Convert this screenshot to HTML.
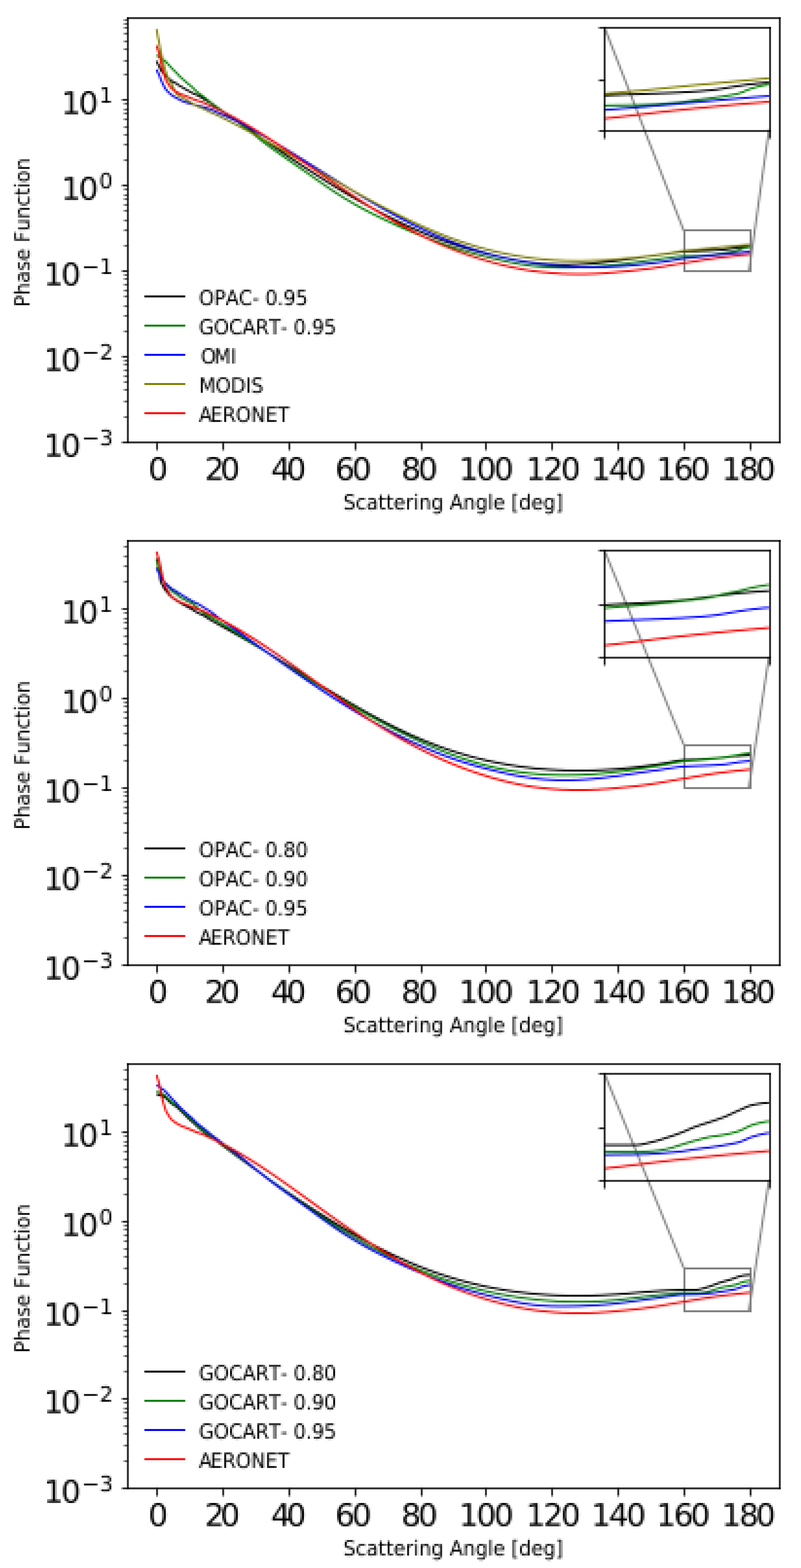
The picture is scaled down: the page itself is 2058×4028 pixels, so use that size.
<!DOCTYPE html>
<html lang="en"><head><meta charset="utf-8"><title>Phase Function vs Scattering Angle</title>
<style>
html,body{margin:0;padding:0;background:#fff}
body{width:2058px;height:4028px;overflow:hidden}
svg{display:block;font-family:"DejaVu Sans","Liberation Sans",sans-serif;font-kerning:none;font-variant-ligatures:none;text-rendering:geometricPrecision}
svg text{fill:#000}
</style></head><body>
<svg width="2058" height="4028" viewBox="0 0 2058 4028" role="img" aria-label="Phase function versus scattering angle for aerosol models">
<defs>
<g id="plot1"><path fill="none" stroke="#808080" stroke-width="5" d="M1553.3 71 L1756.7 592.5 M1975.8 332.3 L1924.3 697.1"/><g fill="none" stroke-width="5" stroke-linejoin="round"><path stroke="#000000" d="M402.5 156.4 L403.3 159.3 L404.2 161.3 L405 163.1 L405.9 164.8 L406.7 166.3 L407.6 167.7 L408.4 169.1 L409.3 170.9 L410.1 172.9 L411 174.9 L411.8 176.8 L412.6 178.6 L413.5 180 L414.3 181.4 L415.2 182.6 L416 183.8 L416.9 184.9 L417.7 186 L418.6 187.1 L419.4 188.2 L420.3 189.2 L421.1 190.2 L421.9 191.1 L422.8 192 L423.6 192.9 L424.5 193.7 L425.3 194.4 L426.2 195.2 L427 195.9 L427.9 196.7 L428.7 197.4 L429.6 198.2 L430.4 199 L431.2 199.8 L432.1 200.6 L432.9 201.3 L433.8 202 L434.6 202.7 L435.5 203.4 L436.3 204 L437.2 204.6 L438 205.3 L438.9 205.9 L439.7 206.6 L440.5 207.3 L441.4 208.1 L442.2 208.7 L443.1 209.4 L443.9 209.9 L444.8 210.4 L445.6 210.9 L446.5 211.3 L447.3 211.7 L448.2 212.1 L449 212.5 L449.8 212.9 L450.7 213.3 L451.5 213.7 L452.4 214.1 L453.2 214.6 L457.5 217.8 L461.7 220.4 L465.9 222.7 L470.1 225.3 L474.4 227.8 L478.6 230.3 L482.8 232.6 L487 234.9 L491.3 237.3 L495.5 239.6 L499.7 241.5 L504 243.2 L508.2 245.1 L512.4 247.4 L516.6 250 L520.9 252.7 L525.1 255.3 L529.3 257.7 L533.5 260.1 L537.8 262.5 L542 265.2 L546.2 268.2 L550.5 271.5 L554.7 274.8 L558.9 277.9 L563.1 280.8 L567.4 283.5 L571.6 286.3 L575.8 289 L580 291.8 L584.3 294.6 L588.5 297.5 L592.7 300.4 L597 303.3 L601.2 306.2 L605.4 309.1 L609.6 312 L613.9 315 L618.1 317.9 L622.3 320.8 L626.5 323.7 L630.8 326.6 L635 329.5 L639.2 332.4 L643.5 335.3 L647.7 338.3 L651.9 341.2 L656.1 344.1 L664.6 349.9 L673 355.7 L681.5 361.5 L690 367.3 L698.4 373.1 L706.9 378.9 L715.3 384.6 L723.8 390.4 L732.2 396.1 L740.7 401.8 L749.1 407.4 L757.6 413.1 L766 418.7 L774.5 424.3 L783 429.9 L791.4 435.4 L799.9 440.9 L808.3 446.4 L816.8 451.8 L825.2 457.2 L833.7 462.6 L842.1 467.9 L850.6 473.2 L859 478.4 L867.5 483.6 L876 488.7 L884.4 493.8 L892.9 498.8 L901.3 503.8 L909.8 508.7 L918.2 513.6 L926.7 518.4 L935.1 523.1 L943.6 527.8 L952 532.5 L960.5 537 L969 541.6 L977.4 546 L985.9 550.4 L994.3 554.8 L1002.8 559 L1011.2 563.2 L1019.7 567.4 L1028.1 571.5 L1036.6 575.5 L1045 579.4 L1053.5 583.3 L1062 587.1 L1070.4 590.8 L1078.9 594.5 L1087.3 598.1 L1095.8 601.6 L1104.2 605 L1112.7 608.4 L1121.1 611.7 L1129.6 614.9 L1138 618 L1146.5 621 L1155 624 L1163.4 626.9 L1171.9 629.7 L1180.3 632.4 L1188.8 635 L1197.2 637.6 L1205.7 640 L1214.1 642.4 L1222.6 644.7 L1231 647 L1239.5 649.2 L1248 651.3 L1256.4 653.4 L1264.9 655.4 L1273.3 657.4 L1281.8 659.3 L1290.2 661.1 L1298.7 662.9 L1307.1 664.7 L1315.6 666.3 L1324 667.9 L1332.5 669.5 L1341 670.9 L1349.4 672.2 L1357.9 673.5 L1366.3 674.6 L1374.8 675.6 L1383.2 676.6 L1391.7 677.4 L1400.1 678.1 L1408.6 678.7 L1417 679.1 L1425.5 679.5 L1434 679.8 L1442.4 679.9 L1450.9 680 L1459.3 680 L1467.8 679.8 L1476.2 679.6 L1484.7 679.3 L1493.1 678.8 L1501.6 678.3 L1510 677.7 L1518.5 677.1 L1527 676.3 L1535.4 675.5 L1543.9 674.7 L1552.3 673.7 L1560.8 672.8 L1569.2 671.8 L1577.7 670.7 L1586.1 669.6 L1594.6 668.5 L1603 667.3 L1611.5 666.1 L1620 665 L1628.4 663.8 L1636.9 662.6 L1645.3 661.3 L1653.8 660.1 L1662.2 658.9 L1670.7 657.8 L1679.1 656.6 L1687.6 655.5 L1696 654.3 L1704.5 653.1 L1713 651.9 L1721.4 650.6 L1729.9 649.4 L1738.3 648.2 L1746.8 647.1 L1755.2 646.4 L1763.7 645.9 L1772.1 645.5 L1780.6 645.2 L1789 644.9 L1797.5 644.6 L1806 644.2 L1814.4 643.9 L1822.9 643.5 L1831.3 643.1 L1839.8 642.6 L1848.2 642.1 L1856.7 641.4 L1865.1 640.6 L1873.6 639.5 L1882 638.1 L1890.5 636.7 L1899 635.4 L1907.4 634.4 L1915.9 633.5 L1924.3 632.8 L1926.8 632.6"/><path stroke="#008000" d="M402.5 141.9 L403.3 142.6 L404.2 143.2 L405 143.8 L405.9 144.4 L406.7 145 L407.6 145.6 L408.4 146.2 L409.3 146.7 L410.1 147.3 L411 147.8 L411.8 148.4 L412.6 148.9 L413.5 149.4 L414.3 150 L415.2 150.5 L416 151 L416.9 151.5 L417.7 152 L418.6 152.5 L419.4 153 L420.3 153.6 L421.1 154.3 L421.9 155 L422.8 155.7 L423.6 156.4 L424.5 157.1 L425.3 157.9 L426.2 158.7 L427 159.6 L427.9 160.5 L428.7 161.4 L429.6 162.3 L430.4 163.2 L431.2 164.1 L432.1 165.1 L432.9 166 L433.8 166.9 L434.6 167.8 L435.5 168.7 L436.3 169.6 L437.2 170.5 L438 171.4 L438.9 172.3 L439.7 173.3 L440.5 174.2 L441.4 175.1 L442.2 176 L443.1 176.9 L443.9 177.8 L444.8 178.6 L445.6 179.5 L446.5 180.3 L447.3 181.1 L448.2 181.9 L449 182.7 L449.8 183.5 L450.7 184.4 L451.5 185.2 L452.4 186 L453.2 186.9 L457.5 191.5 L461.7 196.1 L465.9 199.9 L470.1 203.6 L474.4 207.4 L478.6 211.2 L482.8 214.9 L487 218.3 L491.3 221.7 L495.5 225.5 L499.7 229.8 L504 234 L508.2 237.5 L512.4 240.7 L516.6 243.8 L520.9 246.9 L525.1 250.1 L529.3 253.3 L533.5 256.8 L537.8 260.3 L542 263.6 L546.2 266.8 L550.5 269.8 L554.7 272.8 L558.9 275.9 L563.1 279 L567.4 282.1 L571.6 285.2 L575.8 288.1 L580 291.1 L584.3 294 L588.5 296.9 L592.7 299.9 L597 302.9 L601.2 306 L605.4 309.1 L609.6 312.3 L613.9 315.5 L618.1 318.7 L622.3 322 L626.5 325.3 L630.8 328.6 L635 332 L639.2 335.3 L643.5 338.7 L647.7 342 L651.9 345.4 L656.1 348.7 L664.6 355.4 L673 362 L681.5 368.4 L690 374.7 L698.4 380.9 L706.9 387 L715.3 393 L723.8 398.9 L732.2 404.8 L740.7 410.6 L749.1 416.4 L757.6 422.2 L766 428.1 L774.5 433.9 L783 439.8 L791.4 445.8 L799.9 451.7 L808.3 457.7 L816.8 463.6 L825.2 469.5 L833.7 475.4 L842.1 481.2 L850.6 486.9 L859 492.6 L867.5 498.1 L876 503.5 L884.4 508.8 L892.9 513.9 L901.3 518.9 L909.8 523.8 L918.2 528.5 L926.7 533.2 L935.1 537.8 L943.6 542.2 L952 546.6 L960.5 550.9 L969 555.1 L977.4 559.2 L985.9 563.3 L994.3 567.3 L1002.8 571.2 L1011.2 575.1 L1019.7 578.9 L1028.1 582.7 L1036.6 586.4 L1045 590 L1053.5 593.6 L1062 597.1 L1070.4 600.6 L1078.9 604 L1087.3 607.4 L1095.8 610.7 L1104.2 613.9 L1112.7 617.1 L1121.1 620.3 L1129.6 623.4 L1138 626.4 L1146.5 629.3 L1155 632.2 L1163.4 635 L1171.9 637.7 L1180.3 640.4 L1188.8 642.9 L1197.2 645.4 L1205.7 647.9 L1214.1 650.3 L1222.6 652.6 L1231 654.8 L1239.5 657 L1248 659.2 L1256.4 661.3 L1264.9 663.3 L1273.3 665.3 L1281.8 667.3 L1290.2 669.2 L1298.7 671.1 L1307.1 672.9 L1315.6 674.6 L1324 676.3 L1332.5 677.8 L1341 679.3 L1349.4 680.6 L1357.9 681.9 L1366.3 683 L1374.8 684 L1383.2 684.8 L1391.7 685.5 L1400.1 686.1 L1408.6 686.5 L1417 686.8 L1425.5 687.1 L1434 687.2 L1442.4 687.3 L1450.9 687.3 L1459.3 687.2 L1467.8 687.1 L1476.2 686.9 L1484.7 686.6 L1493.1 686.4 L1501.6 686.1 L1510 685.7 L1518.5 685.3 L1527 684.8 L1535.4 684.3 L1543.9 683.7 L1552.3 683.1 L1560.8 682.4 L1569.2 681.6 L1577.7 680.8 L1586.1 679.9 L1594.6 678.9 L1603 677.9 L1611.5 676.9 L1620 675.8 L1628.4 674.6 L1636.9 673.5 L1645.3 672.3 L1653.8 671.2 L1662.2 670 L1670.7 668.9 L1679.1 667.8 L1687.6 666.7 L1696 665.6 L1704.5 664.4 L1713 663.3 L1721.4 662.1 L1729.9 660.8 L1738.3 659.6 L1746.8 658.7 L1755.2 658.2 L1763.7 658 L1772.1 657.9 L1780.6 657.8 L1789 657.6 L1797.5 657.3 L1806 656.8 L1814.4 656.1 L1822.9 655.3 L1831.3 654.5 L1839.8 653.2 L1848.2 651.7 L1856.7 650.5 L1865.1 649.3 L1873.6 648 L1882 646.5 L1890.5 644.8 L1899 641.9 L1907.4 638.4 L1915.9 636.3 L1924.3 634.8 L1926.8 634.4"/><path stroke="#0000ff" d="M402.5 178.5 L403.3 180.9 L404.2 183 L405 185 L405.9 186.8 L406.7 188.5 L407.6 190.1 L408.4 191.6 L409.3 193.5 L410.1 195.8 L411 198.2 L411.8 200.6 L412.6 202.9 L413.5 204.8 L414.3 206.7 L415.2 208.5 L416 210.3 L416.9 212.1 L417.7 213.8 L418.6 215.5 L419.4 217.3 L420.3 219.1 L421.1 220.9 L421.9 222.6 L422.8 224.2 L423.6 225.7 L424.5 227 L425.3 228.2 L426.2 229.4 L427 230.5 L427.9 231.5 L428.7 232.5 L429.6 233.5 L430.4 234.4 L431.2 235.3 L432.1 236.1 L432.9 237 L433.8 237.8 L434.6 238.6 L435.5 239.4 L436.3 240.2 L437.2 240.9 L438 241.6 L438.9 242.3 L439.7 243 L440.5 243.6 L441.4 244.3 L442.2 244.9 L443.1 245.5 L443.9 246.1 L444.8 246.6 L445.6 247.2 L446.5 247.7 L447.3 248.2 L448.2 248.7 L449 249.2 L449.8 249.7 L450.7 250.1 L451.5 250.6 L452.4 251.1 L453.2 251.5 L457.5 253.8 L461.7 256.1 L465.9 258.3 L470.1 260.2 L474.4 261.8 L478.6 263.2 L482.8 264.5 L487 265.7 L491.3 266.9 L495.5 268.1 L499.7 269.2 L504 270.3 L508.2 271.4 L512.4 272.4 L516.6 273.5 L520.9 274.6 L525.1 275.8 L529.3 277 L533.5 278.3 L537.8 279.6 L542 281.2 L546.2 282.9 L550.5 284.8 L554.7 286.8 L558.9 288.7 L563.1 290.6 L567.4 292.4 L571.6 294.3 L575.8 296.1 L580 298 L584.3 300 L588.5 302 L592.7 304 L597 306 L601.2 308.1 L605.4 310.2 L609.6 312.3 L613.9 314.4 L618.1 316.6 L622.3 318.8 L626.5 321 L630.8 323.2 L635 325.5 L639.2 327.7 L643.5 330 L647.7 332.3 L651.9 334.7 L656.1 337 L664.6 341.8 L673 346.6 L681.5 351.4 L690 356.4 L698.4 361.4 L706.9 366.4 L715.3 371.5 L723.8 376.6 L732.2 381.7 L740.7 386.9 L749.1 392.2 L757.6 397.4 L766 402.7 L774.5 407.9 L783 413.2 L791.4 418.5 L799.9 423.8 L808.3 429.1 L816.8 434.5 L825.2 439.8 L833.7 445.1 L842.1 450.4 L850.6 455.7 L859 460.9 L867.5 466.2 L876 471.5 L884.4 476.7 L892.9 481.9 L901.3 487.1 L909.8 492.2 L918.2 497.3 L926.7 502.4 L935.1 507.5 L943.6 512.5 L952 517.5 L960.5 522.4 L969 527.3 L977.4 532.2 L985.9 536.9 L994.3 541.7 L1002.8 546.4 L1011.2 551 L1019.7 555.6 L1028.1 560.1 L1036.6 564.5 L1045 568.9 L1053.5 573.2 L1062 577.4 L1070.4 581.5 L1078.9 585.6 L1087.3 589.6 L1095.8 593.5 L1104.2 597.3 L1112.7 601.1 L1121.1 604.7 L1129.6 608.3 L1138 611.8 L1146.5 615.2 L1155 618.6 L1163.4 621.8 L1171.9 625 L1180.3 628.1 L1188.8 631.1 L1197.2 634.1 L1205.7 636.9 L1214.1 639.7 L1222.6 642.4 L1231 645 L1239.5 647.5 L1248 650 L1256.4 652.3 L1264.9 654.6 L1273.3 656.8 L1281.8 658.9 L1290.2 661 L1298.7 662.9 L1307.1 664.8 L1315.6 666.6 L1324 668.3 L1332.5 669.9 L1341 671.5 L1349.4 673 L1357.9 674.4 L1366.3 675.7 L1374.8 676.9 L1383.2 678.1 L1391.7 679.2 L1400.1 680.2 L1408.6 681.1 L1417 682 L1425.5 682.8 L1434 683.5 L1442.4 684.2 L1450.9 684.7 L1459.3 685.2 L1467.8 685.7 L1476.2 686 L1484.7 686.3 L1493.1 686.6 L1501.6 686.7 L1510 686.8 L1518.5 686.8 L1527 686.8 L1535.4 686.6 L1543.9 686.5 L1552.3 686.2 L1560.8 685.9 L1569.2 685.5 L1577.7 685.1 L1586.1 684.6 L1594.6 684 L1603 683.4 L1611.5 682.7 L1620 682 L1628.4 681.2 L1636.9 680.4 L1645.3 679.5 L1653.8 678.6 L1662.2 677.7 L1670.7 676.7 L1679.1 675.7 L1687.6 674.7 L1696 673.6 L1704.5 672.5 L1713 671.2 L1721.4 669.8 L1729.9 668.3 L1738.3 666.7 L1746.8 665.3 L1755.2 664.1 L1763.7 663.1 L1772.1 662.2 L1780.6 661.3 L1789 660.5 L1797.5 659.6 L1806 658.7 L1814.4 657.8 L1822.9 656.9 L1831.3 656 L1839.8 655.1 L1848.2 654.2 L1856.7 653.3 L1865.1 652.4 L1873.6 651.6 L1882 650.8 L1890.5 649.9 L1899 649.2 L1907.4 648.4 L1915.9 647.6 L1924.3 646.9 L1926.8 646.7"/><path stroke="#808000" d="M402.5 74.6 L403.3 80.5 L404.2 85.7 L405 90.5 L405.9 94.9 L406.7 98.9 L407.6 102.7 L408.4 106.3 L409.3 110.6 L410.1 115.6 L411 120.7 L411.8 125.8 L412.6 130.4 L413.5 134.5 L414.3 138.3 L415.2 141.9 L416 145.4 L416.9 148.8 L417.7 152.3 L418.6 155.9 L419.4 159.8 L420.3 163.9 L421.1 167.9 L421.9 171.7 L422.8 175.2 L423.6 178.2 L424.5 180.9 L425.3 183.3 L426.2 185.7 L427 188 L427.9 190.2 L428.7 192.4 L429.6 194.7 L430.4 197 L431.2 199.2 L432.1 201.2 L432.9 203.1 L433.8 204.7 L434.6 206 L435.5 207.3 L436.3 208.4 L437.2 209.6 L438 210.8 L438.9 212.2 L439.7 213.6 L440.5 215.1 L441.4 216.6 L442.2 218.2 L443.1 219.9 L443.9 221.6 L444.8 223.5 L445.6 225.6 L446.5 227.8 L447.3 229.9 L448.2 231.8 L449 233.5 L449.8 235.2 L450.7 236.8 L451.5 238.3 L452.4 239.7 L453.2 240.8 L457.5 244.3 L461.7 246.6 L465.9 249 L470.1 251.4 L474.4 253.7 L478.6 256.1 L482.8 258.7 L487 261.4 L491.3 264.1 L495.5 266.8 L499.7 269.3 L504 271.5 L508.2 273.4 L512.4 275.1 L516.6 276.7 L520.9 278.4 L525.1 280.3 L529.3 282.4 L533.5 284.7 L537.8 287 L542 289 L546.2 290.8 L550.5 292.5 L554.7 294.2 L558.9 296.1 L563.1 298.1 L567.4 300.2 L571.6 302.3 L575.8 304.5 L580 306.6 L584.3 308.8 L588.5 310.9 L592.7 313.1 L597 315.2 L601.2 317.4 L605.4 319.6 L609.6 321.8 L613.9 324 L618.1 326.2 L622.3 328.5 L626.5 330.7 L630.8 333 L635 335.2 L639.2 337.5 L643.5 339.8 L647.7 342.1 L651.9 344.4 L656.1 346.7 L664.6 351.3 L673 356 L681.5 360.7 L690 365.4 L698.4 370.2 L706.9 375 L715.3 379.8 L723.8 384.6 L732.2 389.4 L740.7 394.3 L749.1 399.2 L757.6 404.1 L766 408.9 L774.5 413.8 L783 418.7 L791.4 423.7 L799.9 428.6 L808.3 433.5 L816.8 438.4 L825.2 443.3 L833.7 448.2 L842.1 453.1 L850.6 457.9 L859 462.8 L867.5 467.7 L876 472.5 L884.4 477.3 L892.9 482.1 L901.3 486.9 L909.8 491.7 L918.2 496.4 L926.7 501.1 L935.1 505.8 L943.6 510.4 L952 515 L960.5 519.6 L969 524.1 L977.4 528.6 L985.9 533 L994.3 537.4 L1002.8 541.8 L1011.2 546.1 L1019.7 550.4 L1028.1 554.6 L1036.6 558.8 L1045 562.9 L1053.5 566.9 L1062 570.9 L1070.4 574.8 L1078.9 578.7 L1087.3 582.5 L1095.8 586.2 L1104.2 589.9 L1112.7 593.5 L1121.1 597 L1129.6 600.4 L1138 603.8 L1146.5 607.1 L1155 610.3 L1163.4 613.4 L1171.9 616.5 L1180.3 619.4 L1188.8 622.3 L1197.2 625 L1205.7 627.7 L1214.1 630.3 L1222.6 632.9 L1231 635.3 L1239.5 637.6 L1248 639.9 L1256.4 642.1 L1264.9 644.2 L1273.3 646.2 L1281.8 648.1 L1290.2 649.9 L1298.7 651.7 L1307.1 653.4 L1315.6 655 L1324 656.5 L1332.5 657.9 L1341 659.3 L1349.4 660.6 L1357.9 661.8 L1366.3 662.9 L1374.8 663.9 L1383.2 664.9 L1391.7 665.8 L1400.1 666.6 L1408.6 667.3 L1417 667.9 L1425.5 668.5 L1434 669 L1442.4 669.4 L1450.9 669.8 L1459.3 670 L1467.8 670.2 L1476.2 670.3 L1484.7 670.4 L1493.1 670.4 L1501.6 670.3 L1510 670.1 L1518.5 669.9 L1527 669.6 L1535.4 669.3 L1543.9 668.9 L1552.3 668.4 L1560.8 667.9 L1569.2 667.3 L1577.7 666.7 L1586.1 666.1 L1594.6 665.4 L1603 664.6 L1611.5 663.8 L1620 663 L1628.4 662.2 L1636.9 661.3 L1645.3 660.4 L1653.8 659.4 L1662.2 658.5 L1670.7 657.5 L1679.1 656.5 L1687.6 655.4 L1696 654.4 L1704.5 653.2 L1713 651.9 L1721.4 650.4 L1729.9 648.8 L1738.3 647.2 L1746.8 645.7 L1755.2 644.5 L1763.7 643.6 L1772.1 642.8 L1780.6 642 L1789 641.3 L1797.5 640.5 L1806 639.7 L1814.4 638.8 L1822.9 638 L1831.3 637.1 L1839.8 636.3 L1848.2 635.5 L1856.7 634.8 L1865.1 634 L1873.6 633.3 L1882 632.5 L1890.5 631.8 L1899 631.1 L1907.4 630.3 L1915.9 629.6 L1924.3 628.9 L1926.8 628.7"/><path stroke="#ff0000" d="M402.5 116.8 L403.3 120.2 L404.2 123.3 L405 126 L405.9 128.5 L406.7 130.9 L407.6 133.3 L408.4 135.7 L409.3 138.8 L410.1 142.8 L411 147 L411.8 150.7 L412.6 154.5 L413.5 158.1 L414.3 162.1 L415.2 166.3 L416 170.5 L416.9 174.5 L417.7 178.2 L418.6 181.6 L419.4 184.6 L420.3 187.4 L421.1 190 L421.9 192.6 L422.8 195.2 L423.6 197.7 L424.5 200.2 L425.3 202.8 L426.2 205.2 L427 206.7 L427.9 208.1 L428.7 209.4 L429.6 210.7 L430.4 212.2 L431.2 213.6 L432.1 215 L432.9 216.3 L433.8 217.6 L434.6 218.9 L435.5 220.2 L436.3 221.4 L437.2 222.6 L438 223.7 L438.9 224.7 L439.7 225.6 L440.5 226.4 L441.4 227.2 L442.2 228 L443.1 228.7 L443.9 229.4 L444.8 230.1 L445.6 230.7 L446.5 231.3 L447.3 231.9 L448.2 232.4 L449 233 L449.8 233.5 L450.7 234.1 L451.5 234.6 L452.4 235.1 L453.2 235.7 L457.5 238.2 L461.7 240.5 L465.9 242.3 L470.1 243.8 L474.4 245.5 L478.6 247.2 L482.8 248.9 L487 250.6 L491.3 252.3 L495.5 254 L499.7 255.8 L504 257.4 L508.2 258.9 L512.4 260.2 L516.6 261.4 L520.9 262.8 L525.1 264.7 L529.3 266.7 L533.5 268.7 L537.8 270.7 L542 272.6 L546.2 274.5 L550.5 276.4 L554.7 278.4 L558.9 280.4 L563.1 282.3 L567.4 284.4 L571.6 286.4 L575.8 288.5 L580 290.7 L584.3 292.9 L588.5 295.1 L592.7 297.4 L597 299.7 L601.2 302 L605.4 304.3 L609.6 306.7 L613.9 309 L618.1 311.5 L622.3 313.9 L626.5 316.3 L630.8 318.8 L635 321.3 L639.2 323.8 L643.5 326.3 L647.7 328.9 L651.9 331.5 L656.1 334.1 L664.6 339.3 L673 344.6 L681.5 350 L690 355.4 L698.4 360.9 L706.9 366.4 L715.3 372 L723.8 377.7 L732.2 383.3 L740.7 389 L749.1 394.8 L757.6 400.6 L766 406.4 L774.5 412.2 L783 418 L791.4 423.9 L799.9 429.7 L808.3 435.6 L816.8 441.4 L825.2 447.3 L833.7 453.2 L842.1 459 L850.6 464.8 L859 470.6 L867.5 476.4 L876 482.2 L884.4 487.9 L892.9 493.6 L901.3 499.3 L909.8 504.9 L918.2 510.4 L926.7 515.9 L935.1 521.4 L943.6 526.8 L952 532.1 L960.5 537.4 L969 542.6 L977.4 547.7 L985.9 552.8 L994.3 557.8 L1002.8 562.7 L1011.2 567.5 L1019.7 572.3 L1028.1 576.9 L1036.6 581.4 L1045 585.9 L1053.5 590.3 L1062 594.7 L1070.4 598.9 L1078.9 603.1 L1087.3 607.2 L1095.8 611.2 L1104.2 615.1 L1112.7 619 L1121.1 622.7 L1129.6 626.4 L1138 630 L1146.5 633.5 L1155 636.9 L1163.4 640.3 L1171.9 643.6 L1180.3 646.8 L1188.8 649.9 L1197.2 652.9 L1205.7 655.8 L1214.1 658.7 L1222.6 661.4 L1231 664.1 L1239.5 666.7 L1248 669.2 L1256.4 671.7 L1264.9 674.1 L1273.3 676.4 L1281.8 678.6 L1290.2 680.7 L1298.7 682.7 L1307.1 684.7 L1315.6 686.5 L1324 688.3 L1332.5 690 L1341 691.6 L1349.4 693.2 L1357.9 694.6 L1366.3 695.9 L1374.8 697 L1383.2 698 L1391.7 698.9 L1400.1 699.7 L1408.6 700.6 L1417 701.4 L1425.5 702 L1434 702.6 L1442.4 703.2 L1450.9 703.6 L1459.3 703.9 L1467.8 704.1 L1476.2 704.3 L1484.7 704.3 L1493.1 704.3 L1501.6 704.2 L1510 704 L1518.5 703.7 L1527 703.4 L1535.4 703 L1543.9 702.5 L1552.3 701.9 L1560.8 701.3 L1569.2 700.6 L1577.7 699.9 L1586.1 699.1 L1594.6 698.3 L1603 697.6 L1611.5 696.8 L1620 695.9 L1628.4 695 L1636.9 694.1 L1645.3 693.1 L1653.8 692.1 L1662.2 691.1 L1670.7 689.9 L1679.1 688.7 L1687.6 687.4 L1696 686.1 L1704.5 684.7 L1713 683.2 L1721.4 681.8 L1729.9 680.3 L1738.3 678.9 L1746.8 677.6 L1755.2 676.3 L1763.7 674.9 L1772.1 673.6 L1780.6 672.1 L1789 670.7 L1797.5 669.3 L1806 668 L1814.4 666.6 L1822.9 665.4 L1831.3 664.2 L1839.8 663.1 L1848.2 662 L1856.7 660.9 L1865.1 659.9 L1873.6 658.9 L1882 657.9 L1890.5 657 L1899 656 L1907.4 655.2 L1915.9 654.4 L1924.3 653.5 L1926.8 653.3"/><path stroke="#000000" d="M1552.7 245.5 L1558 245.2 L1563.2 244.9 L1568.5 244.6 L1573.8 244.4 L1579.1 244.1 L1584.4 243.9 L1589.7 243.7 L1595 243.4 L1600.2 243.2 L1605.5 243 L1610.8 242.8 L1616.1 242.6 L1621.4 242.5 L1626.7 242.3 L1631.9 242.1 L1637.2 241.9 L1642.5 241.7 L1647.8 241.5 L1653.1 241.3 L1658.4 241.2 L1663.6 241 L1668.9 240.8 L1674.2 240.6 L1679.5 240.4 L1684.8 240.2 L1690.1 240 L1695.4 239.8 L1700.6 239.6 L1705.9 239.4 L1711.2 239.1 L1716.5 238.9 L1721.8 238.7 L1727.1 238.4 L1732.3 238.2 L1737.6 237.9 L1742.9 237.7 L1748.2 237.4 L1753.5 237.1 L1758.8 236.8 L1764 236.5 L1769.3 236.2 L1774.6 235.9 L1779.9 235.5 L1785.2 235.2 L1790.5 234.8 L1795.8 234.4 L1801 234 L1806.3 233.6 L1811.6 233.1 L1816.9 232.6 L1822.2 232.2 L1827.5 231.6 L1832.7 231 L1838 230.4 L1843.3 229.7 L1848.6 228.9 L1853.9 228.1 L1859.2 227.2 L1864.4 226.3 L1869.7 225.4 L1875 224.5 L1880.3 223.6 L1885.6 222.7 L1890.9 221.8 L1896.1 221 L1901.4 220.2 L1906.7 219.4 L1912 218.6 L1917.3 217.8 L1922.6 217.1 L1927.9 216.4 L1933.1 215.8 L1938.4 215.2 L1943.7 214.6 L1949 214 L1954.3 213.5 L1959.6 213 L1964.8 212.5 L1970.1 212.1 L1975.4 211.7"/><path stroke="#008000" d="M1552.7 271 L1558 270.9 L1563.2 270.8 L1568.5 270.7 L1573.8 270.7 L1579.1 270.6 L1584.4 270.5 L1589.7 270.5 L1595 270.4 L1600.2 270.4 L1605.5 270.3 L1610.8 270.3 L1616.1 270.2 L1621.4 270.1 L1626.7 270.1 L1631.9 270 L1637.2 269.9 L1642.5 269.8 L1647.8 269.6 L1653.1 269.4 L1658.4 269.2 L1663.6 269 L1668.9 268.7 L1674.2 268.5 L1679.5 268.2 L1684.8 267.9 L1690.1 267.5 L1695.4 267.2 L1700.6 266.8 L1705.9 266.4 L1711.2 265.9 L1716.5 265.5 L1721.8 265.1 L1727.1 264.7 L1732.3 264.3 L1737.6 263.8 L1742.9 263.3 L1748.2 262.8 L1753.5 262.2 L1758.8 261.5 L1764 260.7 L1769.3 259.9 L1774.6 259.1 L1779.9 258.2 L1785.2 257.5 L1790.5 256.7 L1795.8 256.1 L1801 255.4 L1806.3 254.7 L1811.6 254.1 L1816.9 253.4 L1822.2 252.7 L1827.5 252 L1832.7 251.3 L1838 250.6 L1843.3 249.8 L1848.6 249 L1853.9 248.2 L1859.2 247.4 L1864.4 246.5 L1869.7 245.6 L1875 244.7 L1880.3 243.8 L1885.6 242.7 L1890.9 241.6 L1896.1 240.4 L1901.4 238.9 L1906.7 236.9 L1912 234.8 L1917.3 232.5 L1922.6 230.2 L1927.9 228.1 L1933.1 226.3 L1938.4 224.8 L1943.7 223.4 L1949 222 L1954.3 220.8 L1959.6 219.6 L1964.8 218.6 L1970.1 217.7 L1975.4 216.9"/><path stroke="#0000ff" d="M1552.7 282.8 L1558 282.3 L1563.2 281.8 L1568.5 281.3 L1573.8 280.8 L1579.1 280.4 L1584.4 279.9 L1589.7 279.5 L1595 279.1 L1600.2 278.6 L1605.5 278.2 L1610.8 277.8 L1616.1 277.4 L1621.4 276.9 L1626.7 276.5 L1631.9 276.1 L1637.2 275.7 L1642.5 275.2 L1647.8 274.8 L1653.1 274.4 L1658.4 273.9 L1663.6 273.5 L1668.9 273 L1674.2 272.5 L1679.5 272.1 L1684.8 271.6 L1690.1 271.2 L1695.4 270.7 L1700.6 270.2 L1705.9 269.8 L1711.2 269.3 L1716.5 268.8 L1721.8 268.4 L1727.1 267.9 L1732.3 267.4 L1737.6 266.9 L1742.9 266.5 L1748.2 266 L1753.5 265.5 L1758.8 265.1 L1764 264.6 L1769.3 264.1 L1774.6 263.7 L1779.9 263.2 L1785.2 262.7 L1790.5 262.3 L1795.8 261.8 L1801 261.3 L1806.3 260.8 L1811.6 260.4 L1816.9 259.9 L1822.2 259.4 L1827.5 259 L1832.7 258.5 L1838 258 L1843.3 257.6 L1848.6 257.1 L1853.9 256.6 L1859.2 256.2 L1864.4 255.7 L1869.7 255.3 L1875 254.8 L1880.3 254.4 L1885.6 253.9 L1890.9 253.5 L1896.1 253.1 L1901.4 252.6 L1906.7 252.2 L1912 251.7 L1917.3 251.3 L1922.6 250.9 L1927.9 250.4 L1933.1 250 L1938.4 249.6 L1943.7 249.2 L1949 248.7 L1954.3 248.3 L1959.6 247.9 L1964.8 247.5 L1970.1 247.1 L1975.4 246.6"/><path stroke="#808000" d="M1552.7 241.1 L1558 240.5 L1563.2 240 L1568.5 239.5 L1573.8 238.9 L1579.1 238.4 L1584.4 237.9 L1589.7 237.5 L1595 237 L1600.2 236.5 L1605.5 236.1 L1610.8 235.6 L1616.1 235.2 L1621.4 234.7 L1626.7 234.3 L1631.9 233.8 L1637.2 233.3 L1642.5 232.9 L1647.8 232.4 L1653.1 231.9 L1658.4 231.4 L1663.6 230.9 L1668.9 230.4 L1674.2 229.9 L1679.5 229.4 L1684.8 228.8 L1690.1 228.3 L1695.4 227.8 L1700.6 227.2 L1705.9 226.7 L1711.2 226.2 L1716.5 225.6 L1721.8 225.1 L1727.1 224.5 L1732.3 224 L1737.6 223.5 L1742.9 222.9 L1748.2 222.4 L1753.5 221.9 L1758.8 221.4 L1764 220.9 L1769.3 220.3 L1774.6 219.8 L1779.9 219.3 L1785.2 218.8 L1790.5 218.3 L1795.8 217.8 L1801 217.3 L1806.3 216.8 L1811.6 216.3 L1816.9 215.9 L1822.2 215.4 L1827.5 214.9 L1832.7 214.4 L1838 213.9 L1843.3 213.4 L1848.6 212.9 L1853.9 212.4 L1859.2 211.9 L1864.4 211.4 L1869.7 210.9 L1875 210.4 L1880.3 209.9 L1885.6 209.4 L1890.9 209 L1896.1 208.5 L1901.4 208 L1906.7 207.5 L1912 207 L1917.3 206.5 L1922.6 206 L1927.9 205.5 L1933.1 205 L1938.4 204.5 L1943.7 204 L1949 203.5 L1954.3 203 L1959.6 202.5 L1964.8 202 L1970.1 201.5 L1975.4 201"/><path stroke="#ff0000" d="M1552.7 304.7 L1558 304.2 L1563.2 303.6 L1568.5 303 L1573.8 302.4 L1579.1 301.9 L1584.4 301.3 L1589.7 300.7 L1595 300.1 L1600.2 299.4 L1605.5 298.8 L1610.8 298.2 L1616.1 297.6 L1621.4 296.9 L1626.7 296.3 L1631.9 295.7 L1637.2 295.1 L1642.5 294.5 L1647.8 293.8 L1653.1 293.2 L1658.4 292.6 L1663.6 292 L1668.9 291.3 L1674.2 290.7 L1679.5 290.1 L1684.8 289.4 L1690.1 288.8 L1695.4 288.2 L1700.6 287.6 L1705.9 287 L1711.2 286.4 L1716.5 285.8 L1721.8 285.2 L1727.1 284.6 L1732.3 284 L1737.6 283.5 L1742.9 282.9 L1748.2 282.4 L1753.5 281.8 L1758.8 281.3 L1764 280.8 L1769.3 280.2 L1774.6 279.7 L1779.9 279.2 L1785.2 278.6 L1790.5 278.1 L1795.8 277.6 L1801 277.1 L1806.3 276.6 L1811.6 276 L1816.9 275.5 L1822.2 275 L1827.5 274.5 L1832.7 274 L1838 273.5 L1843.3 273 L1848.6 272.5 L1853.9 272 L1859.2 271.5 L1864.4 271 L1869.7 270.5 L1875 270 L1880.3 269.5 L1885.6 269 L1890.9 268.5 L1896.1 268.1 L1901.4 267.6 L1906.7 267.1 L1912 266.6 L1917.3 266.2 L1922.6 265.7 L1927.9 265.3 L1933.1 264.9 L1938.4 264.5 L1943.7 264.1 L1949 263.7 L1954.3 263.2 L1959.6 262.7 L1964.8 262.2 L1970.1 261.8 L1975.4 261.4"/></g></g>
<filter id="f1" filterUnits="userSpaceOnUse" x="396" y="59" width="230" height="290" color-interpolation-filters="sRGB"><feConvolveMatrix in="SourceGraphic" order="5 1" kernelMatrix="1 1 1 1 1" divisor="5" targetX="2" targetY="0" edgeMode="none" preserveAlpha="false" result="h"/><feConvolveMatrix in="h" order="1 5" kernelMatrix="1 1 1 1 1" divisor="5" targetX="0" targetY="2" edgeMode="none" preserveAlpha="false" result="a"/><feFlood x="398" y="61" width="1" height="1" flood-color="#000" result="d"/><feOffset in="d" dx="0" dy="0" x="396" y="59" width="5" height="5" result="c"/><feTile in="c" result="g"/><feComposite in="a" in2="g" operator="in" result="s"/><feMorphology in="s" operator="dilate" radius="2"/></filter>
<filter id="f2" filterUnits="userSpaceOnUse" x="626" y="299" width="230" height="210" color-interpolation-filters="sRGB"><feConvolveMatrix in="SourceGraphic" order="5 1" kernelMatrix="1 1 1 1 1" divisor="5" targetX="2" targetY="0" edgeMode="none" preserveAlpha="false" result="h"/><feConvolveMatrix in="h" order="1 5" kernelMatrix="1 1 1 1 1" divisor="5" targetX="0" targetY="2" edgeMode="none" preserveAlpha="false" result="a"/><feFlood x="628" y="301" width="1" height="1" flood-color="#000" result="d"/><feOffset in="d" dx="0" dy="0" x="626" y="299" width="5" height="5" result="c"/><feTile in="c" result="g"/><feComposite in="a" in2="g" operator="in" result="s"/><feMorphology in="s" operator="dilate" radius="2"/></filter>
<filter id="f3" filterUnits="userSpaceOnUse" x="856" y="439" width="230" height="185" color-interpolation-filters="sRGB"><feConvolveMatrix in="SourceGraphic" order="5 1" kernelMatrix="1 1 1 1 1" divisor="5" targetX="2" targetY="0" edgeMode="none" preserveAlpha="false" result="h"/><feConvolveMatrix in="h" order="1 5" kernelMatrix="1 1 1 1 1" divisor="5" targetX="0" targetY="2" edgeMode="none" preserveAlpha="false" result="a"/><feFlood x="858" y="441" width="1" height="1" flood-color="#000" result="d"/><feOffset in="d" dx="0" dy="0" x="856" y="439" width="5" height="5" result="c"/><feTile in="c" result="g"/><feComposite in="a" in2="g" operator="in" result="s"/><feMorphology in="s" operator="dilate" radius="2"/></filter>
<filter id="f4" filterUnits="userSpaceOnUse" x="1086" y="564" width="230" height="140" color-interpolation-filters="sRGB"><feConvolveMatrix in="SourceGraphic" order="5 1" kernelMatrix="1 1 1 1 1" divisor="5" targetX="2" targetY="0" edgeMode="none" preserveAlpha="false" result="h"/><feConvolveMatrix in="h" order="1 5" kernelMatrix="1 1 1 1 1" divisor="5" targetX="0" targetY="2" edgeMode="none" preserveAlpha="false" result="a"/><feFlood x="1088" y="566" width="1" height="1" flood-color="#000" result="d"/><feOffset in="d" dx="0" dy="0" x="1086" y="564" width="5" height="5" result="c"/><feTile in="c" result="g"/><feComposite in="a" in2="g" operator="in" result="s"/><feMorphology in="s" operator="dilate" radius="2"/></filter>
<filter id="f5" filterUnits="userSpaceOnUse" x="1316" y="639" width="230" height="80" color-interpolation-filters="sRGB"><feConvolveMatrix in="SourceGraphic" order="5 1" kernelMatrix="1 1 1 1 1" divisor="5" targetX="2" targetY="0" edgeMode="none" preserveAlpha="false" result="h"/><feConvolveMatrix in="h" order="1 5" kernelMatrix="1 1 1 1 1" divisor="5" targetX="0" targetY="2" edgeMode="none" preserveAlpha="false" result="a"/><feFlood x="1318" y="641" width="1" height="1" flood-color="#000" result="d"/><feOffset in="d" dx="0" dy="0" x="1316" y="639" width="5" height="5" result="c"/><feTile in="c" result="g"/><feComposite in="a" in2="g" operator="in" result="s"/><feMorphology in="s" operator="dilate" radius="2"/></filter>
<filter id="f6" filterUnits="userSpaceOnUse" x="1546" y="64" width="465" height="655" color-interpolation-filters="sRGB"><feConvolveMatrix in="SourceGraphic" order="5 1" kernelMatrix="1 1 1 1 1" divisor="5" targetX="2" targetY="0" edgeMode="none" preserveAlpha="false" result="h"/><feConvolveMatrix in="h" order="1 5" kernelMatrix="1 1 1 1 1" divisor="5" targetX="0" targetY="2" edgeMode="none" preserveAlpha="false" result="a"/><feFlood x="1548" y="66" width="1" height="1" flood-color="#000" result="d"/><feOffset in="d" dx="0" dy="0" x="1546" y="64" width="5" height="5" result="c"/><feTile in="c" result="g"/><feComposite in="a" in2="g" operator="in" result="s"/><feMorphology in="s" operator="dilate" radius="2"/></filter>
<filter id="f7" filterUnits="userSpaceOnUse" x="376" y="1164" width="1625" height="85" color-interpolation-filters="sRGB"><feConvolveMatrix in="SourceGraphic" order="5 1" kernelMatrix="1 1 1 1 1" divisor="5" targetX="2" targetY="0" edgeMode="none" preserveAlpha="false" result="h"/><feConvolveMatrix in="h" order="1 5" kernelMatrix="1 1 1 1 1" divisor="5" targetX="0" targetY="2" edgeMode="none" preserveAlpha="false" result="a"/><feFlood x="378" y="1166" width="1" height="1" flood-color="#000" result="d"/><feOffset in="d" dx="0" dy="0" x="376" y="1164" width="5" height="5" result="c"/><feTile in="c" result="g"/><feComposite in="a" in2="g" operator="in" result="s"/><feMorphology in="s" operator="dilate" radius="2"/></filter>
<filter id="f8" filterUnits="userSpaceOnUse" x="106" y="1094" width="195" height="95" color-interpolation-filters="sRGB"><feConvolveMatrix in="SourceGraphic" order="5 1" kernelMatrix="1 1 1 1 1" divisor="5" targetX="2" targetY="0" edgeMode="none" preserveAlpha="false" result="h"/><feConvolveMatrix in="h" order="1 5" kernelMatrix="1 1 1 1 1" divisor="5" targetX="0" targetY="2" edgeMode="none" preserveAlpha="false" result="a"/><feFlood x="108" y="1096" width="1" height="1" flood-color="#000" result="d"/><feOffset in="d" dx="0" dy="0" x="106" y="1094" width="5" height="5" result="c"/><feTile in="c" result="g"/><feComposite in="a" in2="g" operator="in" result="s"/><feMorphology in="s" operator="dilate" radius="2"/></filter>
<filter id="f9" filterUnits="userSpaceOnUse" x="106" y="874" width="195" height="95" color-interpolation-filters="sRGB"><feConvolveMatrix in="SourceGraphic" order="5 1" kernelMatrix="1 1 1 1 1" divisor="5" targetX="2" targetY="0" edgeMode="none" preserveAlpha="false" result="h"/><feConvolveMatrix in="h" order="1 5" kernelMatrix="1 1 1 1 1" divisor="5" targetX="0" targetY="2" edgeMode="none" preserveAlpha="false" result="a"/><feFlood x="108" y="876" width="1" height="1" flood-color="#000" result="d"/><feOffset in="d" dx="0" dy="0" x="106" y="874" width="5" height="5" result="c"/><feTile in="c" result="g"/><feComposite in="a" in2="g" operator="in" result="s"/><feMorphology in="s" operator="dilate" radius="2"/></filter>
<filter id="f10" filterUnits="userSpaceOnUse" x="106" y="654" width="195" height="95" color-interpolation-filters="sRGB"><feConvolveMatrix in="SourceGraphic" order="5 1" kernelMatrix="1 1 1 1 1" divisor="5" targetX="2" targetY="0" edgeMode="none" preserveAlpha="false" result="h"/><feConvolveMatrix in="h" order="1 5" kernelMatrix="1 1 1 1 1" divisor="5" targetX="0" targetY="2" edgeMode="none" preserveAlpha="false" result="a"/><feFlood x="108" y="656" width="1" height="1" flood-color="#000" result="d"/><feOffset in="d" dx="0" dy="0" x="106" y="654" width="5" height="5" result="c"/><feTile in="c" result="g"/><feComposite in="a" in2="g" operator="in" result="s"/><feMorphology in="s" operator="dilate" radius="2"/></filter>
<filter id="f11" filterUnits="userSpaceOnUse" x="106" y="434" width="195" height="95" color-interpolation-filters="sRGB"><feConvolveMatrix in="SourceGraphic" order="5 1" kernelMatrix="1 1 1 1 1" divisor="5" targetX="2" targetY="0" edgeMode="none" preserveAlpha="false" result="h"/><feConvolveMatrix in="h" order="1 5" kernelMatrix="1 1 1 1 1" divisor="5" targetX="0" targetY="2" edgeMode="none" preserveAlpha="false" result="a"/><feFlood x="108" y="436" width="1" height="1" flood-color="#000" result="d"/><feOffset in="d" dx="0" dy="0" x="106" y="434" width="5" height="5" result="c"/><feTile in="c" result="g"/><feComposite in="a" in2="g" operator="in" result="s"/><feMorphology in="s" operator="dilate" radius="2"/></filter>
<filter id="f12" filterUnits="userSpaceOnUse" x="106" y="214" width="195" height="95" color-interpolation-filters="sRGB"><feConvolveMatrix in="SourceGraphic" order="5 1" kernelMatrix="1 1 1 1 1" divisor="5" targetX="2" targetY="0" edgeMode="none" preserveAlpha="false" result="h"/><feConvolveMatrix in="h" order="1 5" kernelMatrix="1 1 1 1 1" divisor="5" targetX="0" targetY="2" edgeMode="none" preserveAlpha="false" result="a"/><feFlood x="108" y="216" width="1" height="1" flood-color="#000" result="d"/><feOffset in="d" dx="0" dy="0" x="106" y="214" width="5" height="5" result="c"/><feTile in="c" result="g"/><feComposite in="a" in2="g" operator="in" result="s"/><feMorphology in="s" operator="dilate" radius="2"/></filter>
<filter id="f13" filterUnits="userSpaceOnUse" x="866" y="1254" width="600" height="75" color-interpolation-filters="sRGB"><feConvolveMatrix in="SourceGraphic" order="5 1" kernelMatrix="1 1 1 1 1" divisor="5" targetX="2" targetY="0" edgeMode="none" preserveAlpha="false" result="h"/><feConvolveMatrix in="h" order="1 5" kernelMatrix="1 1 1 1 1" divisor="5" targetX="0" targetY="2" edgeMode="none" preserveAlpha="false" result="a"/><feFlood x="868" y="1256" width="1" height="1" flood-color="#000" result="d"/><feOffset in="d" dx="0" dy="0" x="866" y="1254" width="5" height="5" result="c"/><feTile in="c" result="g"/><feComposite in="a" in2="g" operator="in" result="s"/><feMorphology in="s" operator="dilate" radius="2"/></filter>
<filter id="f14" filterUnits="userSpaceOnUse" x="26" y="394" width="65" height="405" color-interpolation-filters="sRGB"><feConvolveMatrix in="SourceGraphic" order="5 1" kernelMatrix="1 1 1 1 1" divisor="5" targetX="2" targetY="0" edgeMode="none" preserveAlpha="false" result="h"/><feConvolveMatrix in="h" order="1 5" kernelMatrix="1 1 1 1 1" divisor="5" targetX="0" targetY="2" edgeMode="none" preserveAlpha="false" result="a"/><feFlood x="28" y="396" width="1" height="1" flood-color="#000" result="d"/><feOffset in="d" dx="0" dy="0" x="26" y="394" width="5" height="5" result="c"/><feTile in="c" result="g"/><feComposite in="a" in2="g" operator="in" result="s"/><feMorphology in="s" operator="dilate" radius="2"/></filter>
<filter id="f15" filterUnits="userSpaceOnUse" x="506" y="729" width="375" height="380" color-interpolation-filters="sRGB"><feConvolveMatrix in="SourceGraphic" order="5 1" kernelMatrix="1 1 1 1 1" divisor="5" targetX="2" targetY="0" edgeMode="none" preserveAlpha="false" result="h"/><feConvolveMatrix in="h" order="1 5" kernelMatrix="1 1 1 1 1" divisor="5" targetX="0" targetY="2" edgeMode="none" preserveAlpha="false" result="a"/><feFlood x="508" y="731" width="1" height="1" flood-color="#000" result="d"/><feOffset in="d" dx="0" dy="0" x="506" y="729" width="5" height="5" result="c"/><feTile in="c" result="g"/><feComposite in="a" in2="g" operator="in" result="s"/><feMorphology in="s" operator="dilate" radius="2"/></filter>
<g id="plot2"><path fill="none" stroke="#808080" stroke-width="5" d="M1553.2 1414.4 L1756.7 1913.1 M1975.8 1686.7 L1924.3 2022.1"/><g fill="none" stroke-width="5" stroke-linejoin="round"><path stroke="#000000" d="M402.5 1434.7 L403.3 1440.5 L404.2 1445.6 L405 1450.4 L405.9 1454.8 L406.7 1458.9 L407.6 1462.7 L408.4 1466.4 L409.3 1471.4 L410.1 1477.5 L411 1483.6 L411.8 1488.9 L412.6 1493.1 L413.5 1495.7 L414.3 1497.6 L415.2 1499 L416 1500.3 L416.9 1501.6 L417.7 1502.9 L418.6 1504.4 L419.4 1506.2 L420.3 1508.1 L421.1 1510 L421.9 1511.8 L422.8 1513.3 L423.6 1514.6 L424.5 1515.6 L425.3 1516.4 L426.2 1517.3 L427 1518.1 L427.9 1519 L428.7 1520 L429.6 1521 L430.4 1522.2 L431.2 1523.3 L432.1 1524.5 L432.9 1525.6 L433.8 1526.6 L434.6 1527.6 L435.5 1528.4 L436.3 1529.3 L437.2 1530.1 L438 1530.9 L438.9 1531.7 L439.7 1532.4 L440.5 1533.1 L441.4 1533.8 L442.2 1534.5 L443.1 1535.2 L443.9 1535.8 L444.8 1536.5 L445.6 1537.1 L446.5 1537.7 L447.3 1538.3 L448.2 1538.9 L449 1539.5 L449.8 1540.1 L450.7 1540.7 L451.5 1541.3 L452.4 1541.8 L453.2 1542.4 L457.5 1545.2 L461.7 1547.7 L465.9 1550.2 L470.1 1552.6 L474.4 1555 L478.6 1557.2 L482.8 1559.5 L487 1561.7 L491.3 1564 L495.5 1566.5 L499.7 1569.3 L504 1572 L508.2 1574.4 L512.4 1576.3 L516.6 1578.1 L520.9 1580 L525.1 1582.4 L529.3 1585 L533.5 1587.8 L537.8 1590.4 L542 1593 L546.2 1595.4 L550.5 1597.8 L554.7 1600.2 L558.9 1602.6 L563.1 1604.9 L567.4 1607.3 L571.6 1609.6 L575.8 1612 L580 1614.3 L584.3 1616.6 L588.5 1619 L592.7 1621.3 L597 1623.7 L601.2 1626.1 L605.4 1628.5 L609.6 1630.8 L613.9 1633.2 L618.1 1635.7 L622.3 1638.1 L626.5 1640.5 L630.8 1643 L635 1645.4 L639.2 1647.9 L643.5 1650.4 L647.7 1652.9 L651.9 1655.4 L656.1 1657.9 L664.6 1662.9 L673 1667.9 L681.5 1673 L690 1678.1 L698.4 1683.3 L706.9 1688.4 L715.3 1693.6 L723.8 1698.8 L732.2 1704 L740.7 1709.2 L749.1 1714.4 L757.6 1719.6 L766 1724.8 L774.5 1730.1 L783 1735.3 L791.4 1740.5 L799.9 1745.7 L808.3 1750.9 L816.8 1756.1 L825.2 1761.3 L833.7 1766.4 L842.1 1771.6 L850.6 1776.7 L859 1781.8 L867.5 1786.9 L876 1791.9 L884.4 1796.9 L892.9 1801.9 L901.3 1806.8 L909.8 1811.7 L918.2 1816.6 L926.7 1821.4 L935.1 1826.2 L943.6 1830.9 L952 1835.6 L960.5 1840.2 L969 1844.8 L977.4 1849.3 L985.9 1853.7 L994.3 1858.1 L1002.8 1862.4 L1011.2 1866.7 L1019.7 1870.9 L1028.1 1875 L1036.6 1879 L1045 1883 L1053.5 1886.9 L1062 1890.7 L1070.4 1894.4 L1078.9 1898 L1087.3 1901.6 L1095.8 1905 L1104.2 1908.4 L1112.7 1911.7 L1121.1 1914.9 L1129.6 1918 L1138 1921 L1146.5 1924 L1155 1926.8 L1163.4 1929.6 L1171.9 1932.3 L1180.3 1934.9 L1188.8 1937.4 L1197.2 1939.9 L1205.7 1942.3 L1214.1 1944.6 L1222.6 1946.8 L1231 1948.9 L1239.5 1951 L1248 1953 L1256.4 1954.9 L1264.9 1956.7 L1273.3 1958.5 L1281.8 1960.1 L1290.2 1961.7 L1298.7 1963.3 L1307.1 1964.7 L1315.6 1966.1 L1324 1967.4 L1332.5 1968.7 L1341 1969.9 L1349.4 1971 L1357.9 1972 L1366.3 1973 L1374.8 1973.9 L1383.2 1974.7 L1391.7 1975.4 L1400.1 1976.1 L1408.6 1976.8 L1417 1977.3 L1425.5 1977.8 L1434 1978.2 L1442.4 1978.6 L1450.9 1978.9 L1459.3 1979.2 L1467.8 1979.3 L1476.2 1979.5 L1484.7 1979.5 L1493.1 1979.5 L1501.6 1979.4 L1510 1979.3 L1518.5 1979.1 L1527 1978.9 L1535.4 1978.6 L1543.9 1978.2 L1552.3 1977.8 L1560.8 1977.3 L1569.2 1976.8 L1577.7 1976.2 L1586.1 1975.6 L1594.6 1974.9 L1603 1974.1 L1611.5 1973.3 L1620 1972.5 L1628.4 1971.6 L1636.9 1970.6 L1645.3 1969.6 L1653.8 1968.6 L1662.2 1967.5 L1670.7 1966.3 L1679.1 1965.1 L1687.6 1963.9 L1696 1962.5 L1704.5 1961.1 L1713 1959.6 L1721.4 1958.1 L1729.9 1956.4 L1738.3 1954.8 L1746.8 1953.5 L1755.2 1952.6 L1763.7 1952.1 L1772.1 1951.7 L1780.6 1951.3 L1789 1951 L1797.5 1950.5 L1806 1950.1 L1814.4 1949.6 L1822.9 1949.1 L1831.3 1948.5 L1839.8 1947.8 L1848.2 1946.9 L1856.7 1945.9 L1865.1 1945 L1873.6 1944.1 L1882 1943.1 L1890.5 1942.3 L1899 1941.7 L1907.4 1941 L1915.9 1940.5 L1924.3 1940.1 L1926.8 1940"/><path stroke="#008000" d="M402.5 1439.2 L403.3 1443.1 L404.2 1446.6 L405 1449.8 L405.9 1452.8 L406.7 1455.6 L407.6 1458.2 L408.4 1460.7 L409.3 1463.9 L410.1 1467.8 L411 1471.8 L411.8 1475.5 L412.6 1478.7 L413.5 1481.2 L414.3 1483.4 L415.2 1485.3 L416 1487.1 L416.9 1488.8 L417.7 1490.2 L418.6 1491.6 L419.4 1492.8 L420.3 1493.8 L421.1 1494.8 L421.9 1495.7 L422.8 1496.6 L423.6 1497.4 L424.5 1498.2 L425.3 1499 L426.2 1499.9 L427 1500.8 L427.9 1501.7 L428.7 1502.6 L429.6 1503.6 L430.4 1504.7 L431.2 1505.8 L432.1 1506.9 L432.9 1508 L433.8 1509.1 L434.6 1510.2 L435.5 1511.3 L436.3 1512.4 L437.2 1513.5 L438 1514.5 L438.9 1515.5 L439.7 1516.4 L440.5 1517.3 L441.4 1518.1 L442.2 1518.9 L443.1 1519.6 L443.9 1520.2 L444.8 1520.8 L445.6 1521.4 L446.5 1521.9 L447.3 1522.4 L448.2 1522.9 L449 1523.3 L449.8 1523.8 L450.7 1524.3 L451.5 1524.9 L452.4 1525.4 L453.2 1526 L457.5 1529.7 L461.7 1533.4 L465.9 1536.1 L470.1 1538.1 L474.4 1540.3 L478.6 1542.8 L482.8 1545.3 L487 1547.3 L491.3 1549.1 L495.5 1551.4 L499.7 1554.9 L504 1558.6 L508.2 1562.2 L512.4 1565.9 L516.6 1569.4 L520.9 1572.8 L525.1 1575.8 L529.3 1578.6 L533.5 1581.2 L537.8 1583.6 L542 1586 L546.2 1588.4 L550.5 1590.7 L554.7 1593.1 L558.9 1595.5 L563.1 1597.9 L567.4 1600.4 L571.6 1602.9 L575.8 1605.5 L580 1608.1 L584.3 1610.7 L588.5 1613.4 L592.7 1616 L597 1618.7 L601.2 1621.3 L605.4 1624 L609.6 1626.7 L613.9 1629.4 L618.1 1632.1 L622.3 1634.8 L626.5 1637.5 L630.8 1640.2 L635 1642.9 L639.2 1645.6 L643.5 1648.3 L647.7 1651.1 L651.9 1653.8 L656.1 1656.5 L664.6 1662 L673 1667.5 L681.5 1672.9 L690 1678.4 L698.4 1683.9 L706.9 1689.3 L715.3 1694.8 L723.8 1700.3 L732.2 1705.7 L740.7 1711.1 L749.1 1716.6 L757.6 1722 L766 1727.4 L774.5 1732.8 L783 1738.1 L791.4 1743.5 L799.9 1748.8 L808.3 1754.1 L816.8 1759.4 L825.2 1764.7 L833.7 1769.9 L842.1 1775.2 L850.6 1780.3 L859 1785.5 L867.5 1790.6 L876 1795.7 L884.4 1800.8 L892.9 1805.8 L901.3 1810.8 L909.8 1815.8 L918.2 1820.7 L926.7 1825.5 L935.1 1830.4 L943.6 1835.2 L952 1839.9 L960.5 1844.6 L969 1849.2 L977.4 1853.8 L985.9 1858.4 L994.3 1862.9 L1002.8 1867.3 L1011.2 1871.7 L1019.7 1876 L1028.1 1880.3 L1036.6 1884.5 L1045 1888.6 L1053.5 1892.7 L1062 1896.7 L1070.4 1900.7 L1078.9 1904.6 L1087.3 1908.4 L1095.8 1912.1 L1104.2 1915.8 L1112.7 1919.4 L1121.1 1923 L1129.6 1926.4 L1138 1929.8 L1146.5 1933.1 L1155 1936.3 L1163.4 1939.4 L1171.9 1942.5 L1180.3 1945.5 L1188.8 1948.4 L1197.2 1951.1 L1205.7 1953.9 L1214.1 1956.5 L1222.6 1959 L1231 1961.4 L1239.5 1963.8 L1248 1966 L1256.4 1968.2 L1264.9 1970.2 L1273.3 1972.2 L1281.8 1974 L1290.2 1975.7 L1298.7 1977.4 L1307.1 1978.9 L1315.6 1980.4 L1324 1981.7 L1332.5 1983 L1341 1984.1 L1349.4 1985.2 L1357.9 1986.2 L1366.3 1987.1 L1374.8 1987.8 L1383.2 1988.6 L1391.7 1989.2 L1400.1 1989.7 L1408.6 1990.2 L1417 1990.5 L1425.5 1990.8 L1434 1991 L1442.4 1991.2 L1450.9 1991.2 L1459.3 1991.2 L1467.8 1991.1 L1476.2 1990.9 L1484.7 1990.7 L1493.1 1990.4 L1501.6 1990 L1510 1989.5 L1518.5 1989 L1527 1988.4 L1535.4 1987.8 L1543.9 1987 L1552.3 1986.3 L1560.8 1985.4 L1569.2 1984.5 L1577.7 1983.6 L1586.1 1982.6 L1594.6 1981.5 L1603 1980.4 L1611.5 1979.2 L1620 1978 L1628.4 1976.8 L1636.9 1975.6 L1645.3 1974.3 L1653.8 1973 L1662.2 1971.7 L1670.7 1970.4 L1679.1 1969.1 L1687.6 1967.7 L1696 1966.4 L1704.5 1964.9 L1713 1963.4 L1721.4 1961.8 L1729.9 1960 L1738.3 1958.3 L1746.8 1956.7 L1755.2 1955.6 L1763.7 1954.8 L1772.1 1954.2 L1780.6 1953.6 L1789 1953 L1797.5 1952.3 L1806 1951.6 L1814.4 1950.8 L1822.9 1950 L1831.3 1949.2 L1839.8 1948.4 L1848.2 1947.6 L1856.7 1946.7 L1865.1 1945.5 L1873.6 1943.7 L1882 1942.1 L1890.5 1940.8 L1899 1939.1 L1907.4 1937.5 L1915.9 1936.2 L1924.3 1935.2 L1926.8 1934.9"/><path stroke="#0000ff" d="M402.5 1458.6 L403.3 1461.6 L404.2 1463.7 L405 1465.6 L405.9 1467.3 L406.7 1468.9 L407.6 1470.4 L408.4 1471.9 L409.3 1473.6 L410.1 1475.7 L411 1477.9 L411.8 1479.9 L412.6 1481.7 L413.5 1483.2 L414.3 1484.6 L415.2 1485.9 L416 1487.2 L416.9 1488.3 L417.7 1489.5 L418.6 1490.6 L419.4 1491.7 L420.3 1492.8 L421.1 1493.8 L421.9 1494.8 L422.8 1495.7 L423.6 1496.6 L424.5 1497.4 L425.3 1498.2 L426.2 1499 L427 1499.8 L427.9 1500.6 L428.7 1501.3 L429.6 1502.1 L430.4 1503 L431.2 1503.8 L432.1 1504.6 L432.9 1505.4 L433.8 1506.1 L434.6 1506.8 L435.5 1507.5 L436.3 1508.2 L437.2 1508.9 L438 1509.5 L438.9 1510.2 L439.7 1510.9 L440.5 1511.7 L441.4 1512.4 L442.2 1513.1 L443.1 1513.8 L443.9 1514.4 L444.8 1514.9 L445.6 1515.4 L446.5 1515.8 L447.3 1516.2 L448.2 1516.7 L449 1517.1 L449.8 1517.5 L450.7 1517.9 L451.5 1518.3 L452.4 1518.7 L453.2 1519.2 L457.5 1522.6 L461.7 1525.2 L465.9 1527.7 L470.1 1530.3 L474.4 1533 L478.6 1535.6 L482.8 1538 L487 1540.4 L491.3 1542.9 L495.5 1545.3 L499.7 1547.3 L504 1549 L508.2 1551 L512.4 1553.4 L516.6 1556.1 L520.9 1558.9 L525.1 1561.6 L529.3 1564.2 L533.5 1566.6 L537.8 1569.2 L542 1572 L546.2 1575.1 L550.5 1578.5 L554.7 1582 L558.9 1585.2 L563.1 1588.2 L567.4 1591.1 L571.6 1593.9 L575.8 1596.8 L580 1599.7 L584.3 1602.6 L588.5 1605.6 L592.7 1608.7 L597 1611.7 L601.2 1614.7 L605.4 1617.8 L609.6 1620.8 L613.9 1623.8 L618.1 1626.9 L622.3 1629.9 L626.5 1632.9 L630.8 1636 L635 1639 L639.2 1642 L643.5 1645.1 L647.7 1648.1 L651.9 1651.1 L656.1 1654.2 L664.6 1660.2 L673 1666.3 L681.5 1672.3 L690 1678.4 L698.4 1684.4 L706.9 1690.4 L715.3 1696.4 L723.8 1702.4 L732.2 1708.4 L740.7 1714.3 L749.1 1720.2 L757.6 1726.1 L766 1732 L774.5 1737.8 L783 1743.6 L791.4 1749.4 L799.9 1755.1 L808.3 1760.8 L816.8 1766.5 L825.2 1772.1 L833.7 1777.7 L842.1 1783.2 L850.6 1788.7 L859 1794.1 L867.5 1799.5 L876 1804.9 L884.4 1810.2 L892.9 1815.4 L901.3 1820.6 L909.8 1825.7 L918.2 1830.8 L926.7 1835.8 L935.1 1840.8 L943.6 1845.7 L952 1850.5 L960.5 1855.3 L969 1860 L977.4 1864.6 L985.9 1869.2 L994.3 1873.7 L1002.8 1878.2 L1011.2 1882.6 L1019.7 1886.9 L1028.1 1891.1 L1036.6 1895.3 L1045 1899.4 L1053.5 1903.5 L1062 1907.4 L1070.4 1911.3 L1078.9 1915.1 L1087.3 1918.9 L1095.8 1922.5 L1104.2 1926.1 L1112.7 1929.6 L1121.1 1933 L1129.6 1936.4 L1138 1939.6 L1146.5 1942.8 L1155 1945.9 L1163.4 1948.9 L1171.9 1951.8 L1180.3 1954.6 L1188.8 1957.4 L1197.2 1960 L1205.7 1962.6 L1214.1 1965.1 L1222.6 1967.5 L1231 1969.9 L1239.5 1972.1 L1248 1974.3 L1256.4 1976.5 L1264.9 1978.6 L1273.3 1980.6 L1281.8 1982.6 L1290.2 1984.6 L1298.7 1986.4 L1307.1 1988.3 L1315.6 1990 L1324 1991.7 L1332.5 1993.2 L1341 1994.7 L1349.4 1996.1 L1357.9 1997.4 L1366.3 1998.6 L1374.8 1999.7 L1383.2 2000.7 L1391.7 2001.5 L1400.1 2002.2 L1408.6 2002.8 L1417 2003.3 L1425.5 2003.7 L1434 2004 L1442.4 2004.2 L1450.9 2004.2 L1459.3 2004.2 L1467.8 2004.1 L1476.2 2003.8 L1484.7 2003.5 L1493.1 2003 L1501.6 2002.5 L1510 2001.9 L1518.5 2001.2 L1527 2000.4 L1535.4 1999.6 L1543.9 1998.7 L1552.3 1997.7 L1560.8 1996.7 L1569.2 1995.6 L1577.7 1994.5 L1586.1 1993.4 L1594.6 1992.2 L1603 1991 L1611.5 1989.8 L1620 1988.6 L1628.4 1987.3 L1636.9 1986.1 L1645.3 1984.8 L1653.8 1983.5 L1662.2 1982.3 L1670.7 1981.1 L1679.1 1979.9 L1687.6 1978.7 L1696 1977.5 L1704.5 1976.2 L1713 1974.9 L1721.4 1973.6 L1729.9 1972.3 L1738.3 1971.1 L1746.8 1970 L1755.2 1969.2 L1763.7 1968.7 L1772.1 1968.3 L1780.6 1968 L1789 1967.6 L1797.5 1967.3 L1806 1967 L1814.4 1966.6 L1822.9 1966.2 L1831.3 1965.8 L1839.8 1965.3 L1848.2 1964.7 L1856.7 1964 L1865.1 1963.2 L1873.6 1962 L1882 1960.6 L1890.5 1959.1 L1899 1957.8 L1907.4 1956.7 L1915.9 1955.8 L1924.3 1955.1 L1926.8 1954.9"/><path stroke="#ff0000" d="M402.5 1417.3 L403.3 1420.9 L404.2 1424.1 L405 1426.9 L405.9 1429.5 L406.7 1432 L407.6 1434.5 L408.4 1437 L409.3 1440.3 L410.1 1444.4 L411 1448.8 L411.8 1452.7 L412.6 1456.6 L413.5 1460.4 L414.3 1464.6 L415.2 1468.9 L416 1473.3 L416.9 1477.4 L417.7 1481.3 L418.6 1484.9 L419.4 1487.9 L420.3 1490.9 L421.1 1493.7 L421.9 1496.4 L422.8 1499 L423.6 1501.6 L424.5 1504.3 L425.3 1506.9 L426.2 1509.4 L427 1511 L427.9 1512.5 L428.7 1513.8 L429.6 1515.2 L430.4 1516.8 L431.2 1518.2 L432.1 1519.6 L432.9 1521 L433.8 1522.4 L434.6 1523.7 L435.5 1525.1 L436.3 1526.4 L437.2 1527.6 L438 1528.7 L438.9 1529.7 L439.7 1530.7 L440.5 1531.6 L441.4 1532.4 L442.2 1533.2 L443.1 1533.9 L443.9 1534.7 L444.8 1535.4 L445.6 1536 L446.5 1536.6 L447.3 1537.3 L448.2 1537.8 L449 1538.4 L449.8 1539 L450.7 1539.5 L451.5 1540.1 L452.4 1540.6 L453.2 1541.2 L457.5 1543.9 L461.7 1546.2 L465.9 1548.1 L470.1 1549.7 L474.4 1551.5 L478.6 1553.2 L482.8 1555 L487 1556.8 L491.3 1558.6 L495.5 1560.3 L499.7 1562.1 L504 1563.9 L508.2 1565.5 L512.4 1566.8 L516.6 1568 L520.9 1569.4 L525.1 1571.5 L529.3 1573.6 L533.5 1575.7 L537.8 1577.7 L542 1579.7 L546.2 1581.7 L550.5 1583.7 L554.7 1585.7 L558.9 1587.8 L563.1 1589.8 L567.4 1591.9 L571.6 1594.1 L575.8 1596.3 L580 1598.5 L584.3 1600.8 L588.5 1603.1 L592.7 1605.5 L597 1607.9 L601.2 1610.3 L605.4 1612.7 L609.6 1615.2 L613.9 1617.7 L618.1 1620.2 L622.3 1622.7 L626.5 1625.3 L630.8 1627.8 L635 1630.4 L639.2 1633 L643.5 1635.7 L647.7 1638.4 L651.9 1641 L656.1 1643.7 L664.6 1649.2 L673 1654.7 L681.5 1660.3 L690 1666 L698.4 1671.7 L706.9 1677.5 L715.3 1683.3 L723.8 1689.2 L732.2 1695.1 L740.7 1701 L749.1 1707 L757.6 1713 L766 1719.1 L774.5 1725.1 L783 1731.2 L791.4 1737.3 L799.9 1743.4 L808.3 1749.5 L816.8 1755.6 L825.2 1761.7 L833.7 1767.8 L842.1 1773.9 L850.6 1780 L859 1786.1 L867.5 1792.1 L876 1798.1 L884.4 1804.1 L892.9 1810 L901.3 1815.9 L909.8 1821.7 L918.2 1827.5 L926.7 1833.3 L935.1 1839 L943.6 1844.6 L952 1850.2 L960.5 1855.7 L969 1861.1 L977.4 1866.4 L985.9 1871.7 L994.3 1876.9 L1002.8 1881.9 L1011.2 1887 L1019.7 1892 L1028.1 1896.8 L1036.6 1901.5 L1045 1906.2 L1053.5 1910.8 L1062 1915.3 L1070.4 1919.7 L1078.9 1924.1 L1087.3 1928.3 L1095.8 1932.5 L1104.2 1936.6 L1112.7 1940.6 L1121.1 1944.5 L1129.6 1948.4 L1138 1952.1 L1146.5 1955.8 L1155 1959.4 L1163.4 1962.9 L1171.9 1966.3 L1180.3 1969.6 L1188.8 1972.8 L1197.2 1976 L1205.7 1979 L1214.1 1982 L1222.6 1984.9 L1231 1987.7 L1239.5 1990.4 L1248 1993 L1256.4 1995.6 L1264.9 1998.1 L1273.3 2000.4 L1281.8 2002.7 L1290.2 2005 L1298.7 2007.1 L1307.1 2009.1 L1315.6 2011.1 L1324 2012.9 L1332.5 2014.7 L1341 2016.4 L1349.4 2017.9 L1357.9 2019.4 L1366.3 2020.8 L1374.8 2022 L1383.2 2023 L1391.7 2023.9 L1400.1 2024.8 L1408.6 2025.7 L1417 2026.5 L1425.5 2027.2 L1434 2027.8 L1442.4 2028.4 L1450.9 2028.8 L1459.3 2029.1 L1467.8 2029.4 L1476.2 2029.5 L1484.7 2029.6 L1493.1 2029.6 L1501.6 2029.4 L1510 2029.2 L1518.5 2029 L1527 2028.6 L1535.4 2028.2 L1543.9 2027.6 L1552.3 2027.1 L1560.8 2026.4 L1569.2 2025.7 L1577.7 2024.9 L1586.1 2024.1 L1594.6 2023.3 L1603 2022.5 L1611.5 2021.7 L1620 2020.8 L1628.4 2019.9 L1636.9 2018.9 L1645.3 2017.9 L1653.8 2016.9 L1662.2 2015.8 L1670.7 2014.6 L1679.1 2013.3 L1687.6 2012 L1696 2010.6 L1704.5 2009.1 L1713 2007.6 L1721.4 2006.1 L1729.9 2004.6 L1738.3 2003.1 L1746.8 2001.7 L1755.2 2000.4 L1763.7 1999 L1772.1 1997.5 L1780.6 1996 L1789 1994.6 L1797.5 1993.1 L1806 1991.7 L1814.4 1990.3 L1822.9 1989 L1831.3 1987.7 L1839.8 1986.6 L1848.2 1985.4 L1856.7 1984.3 L1865.1 1983.3 L1873.6 1982.2 L1882 1981.2 L1890.5 1980.2 L1899 1979.3 L1907.4 1978.4 L1915.9 1977.6 L1924.3 1976.7 L1926.8 1976.4"/><path stroke="#000000" d="M1552.7 1554.3 L1558 1553.9 L1563.2 1553.6 L1568.5 1553.2 L1573.8 1552.9 L1579.1 1552.6 L1584.4 1552.4 L1589.7 1552.1 L1595 1551.8 L1600.2 1551.6 L1605.5 1551.3 L1610.8 1551.1 L1616.1 1550.9 L1621.4 1550.6 L1626.7 1550.3 L1631.9 1550.1 L1637.2 1549.8 L1642.5 1549.5 L1647.8 1549.2 L1653.1 1548.8 L1658.4 1548.5 L1663.6 1548.2 L1668.9 1547.9 L1674.2 1547.6 L1679.5 1547.3 L1684.8 1547 L1690.1 1546.7 L1695.4 1546.3 L1700.6 1546 L1705.9 1545.7 L1711.2 1545.3 L1716.5 1545 L1721.8 1544.6 L1727.1 1544.2 L1732.3 1543.8 L1737.6 1543.4 L1742.9 1542.9 L1748.2 1542.5 L1753.5 1542 L1758.8 1541.5 L1764 1540.9 L1769.3 1540.3 L1774.6 1539.7 L1779.9 1539 L1785.2 1538.3 L1790.5 1537.6 L1795.8 1536.9 L1801 1536.2 L1806.3 1535.5 L1811.6 1534.7 L1816.9 1534 L1822.2 1533.4 L1827.5 1532.7 L1832.7 1532 L1838 1531.3 L1843.3 1530.6 L1848.6 1529.9 L1853.9 1529.2 L1859.2 1528.5 L1864.4 1527.8 L1869.7 1527.2 L1875 1526.5 L1880.3 1525.9 L1885.6 1525.3 L1890.9 1524.7 L1896.1 1524.2 L1901.4 1523.6 L1906.7 1523.1 L1912 1522.7 L1917.3 1522.2 L1922.6 1521.7 L1927.9 1521.3 L1933.1 1520.8 L1938.4 1520.4 L1943.7 1520 L1949 1519.6 L1954.3 1519.2 L1959.6 1518.8 L1964.8 1518.5 L1970.1 1518.2 L1975.4 1517.9"/><path stroke="#008000" d="M1552.7 1562.4 L1558 1561.8 L1563.2 1561.3 L1568.5 1560.8 L1573.8 1560.3 L1579.1 1559.9 L1584.4 1559.4 L1589.7 1559 L1595 1558.6 L1600.2 1558.2 L1605.5 1557.8 L1610.8 1557.4 L1616.1 1557 L1621.4 1556.6 L1626.7 1556.2 L1631.9 1555.8 L1637.2 1555.3 L1642.5 1554.9 L1647.8 1554.4 L1653.1 1553.9 L1658.4 1553.4 L1663.6 1552.9 L1668.9 1552.4 L1674.2 1551.9 L1679.5 1551.4 L1684.8 1550.9 L1690.1 1550.4 L1695.4 1549.9 L1700.6 1549.4 L1705.9 1548.8 L1711.2 1548.3 L1716.5 1547.7 L1721.8 1547.2 L1727.1 1546.6 L1732.3 1546.1 L1737.6 1545.5 L1742.9 1544.9 L1748.2 1544.4 L1753.5 1543.8 L1758.8 1543.2 L1764 1542.6 L1769.3 1542.1 L1774.6 1541.5 L1779.9 1540.9 L1785.2 1540.3 L1790.5 1539.7 L1795.8 1539.1 L1801 1538.4 L1806.3 1537.7 L1811.6 1536.9 L1816.9 1536.1 L1822.2 1535.3 L1827.5 1534.3 L1832.7 1533.1 L1838 1531.8 L1843.3 1530.3 L1848.6 1528.9 L1853.9 1527.5 L1859.2 1526.2 L1864.4 1525 L1869.7 1524 L1875 1522.9 L1880.3 1521.9 L1885.6 1520.9 L1890.9 1519.9 L1896.1 1518.8 L1901.4 1517.6 L1906.7 1516.3 L1912 1514.9 L1917.3 1513.5 L1922.6 1512.1 L1927.9 1510.8 L1933.1 1509.6 L1938.4 1508.5 L1943.7 1507.5 L1949 1506.5 L1954.3 1505.5 L1959.6 1504.6 L1964.8 1503.7 L1970.1 1502.9 L1975.4 1502.2"/><path stroke="#0000ff" d="M1552.7 1596.2 L1558 1595.8 L1563.2 1595.5 L1568.5 1595.3 L1573.8 1595 L1579.1 1594.7 L1584.4 1594.5 L1589.7 1594.3 L1595 1594 L1600.2 1593.8 L1605.5 1593.6 L1610.8 1593.4 L1616.1 1593.2 L1621.4 1593 L1626.7 1592.8 L1631.9 1592.6 L1637.2 1592.4 L1642.5 1592.2 L1647.8 1592 L1653.1 1591.8 L1658.4 1591.6 L1663.6 1591.4 L1668.9 1591.2 L1674.2 1591 L1679.5 1590.8 L1684.8 1590.6 L1690.1 1590.4 L1695.4 1590.2 L1700.6 1590 L1705.9 1589.8 L1711.2 1589.5 L1716.5 1589.3 L1721.8 1589.1 L1727.1 1588.8 L1732.3 1588.6 L1737.6 1588.3 L1742.9 1588 L1748.2 1587.7 L1753.5 1587.4 L1758.8 1587.1 L1764 1586.8 L1769.3 1586.5 L1774.6 1586.1 L1779.9 1585.8 L1785.2 1585.4 L1790.5 1585 L1795.8 1584.6 L1801 1584.2 L1806.3 1583.7 L1811.6 1583.3 L1816.9 1582.8 L1822.2 1582.3 L1827.5 1581.7 L1832.7 1581.1 L1838 1580.4 L1843.3 1579.7 L1848.6 1578.8 L1853.9 1578 L1859.2 1577.1 L1864.4 1576.2 L1869.7 1575.3 L1875 1574.3 L1880.3 1573.3 L1885.6 1572.4 L1890.9 1571.5 L1896.1 1570.6 L1901.4 1569.8 L1906.7 1569 L1912 1568.2 L1917.3 1567.4 L1922.6 1566.6 L1927.9 1565.9 L1933.1 1565.2 L1938.4 1564.6 L1943.7 1564 L1949 1563.4 L1954.3 1562.8 L1959.6 1562.3 L1964.8 1561.8 L1970.1 1561.4 L1975.4 1561"/><path stroke="#ff0000" d="M1552.7 1657.9 L1558 1657.3 L1563.2 1656.7 L1568.5 1656.1 L1573.8 1655.5 L1579.1 1654.9 L1584.4 1654.3 L1589.7 1653.7 L1595 1653 L1600.2 1652.4 L1605.5 1651.7 L1610.8 1651.1 L1616.1 1650.4 L1621.4 1649.8 L1626.7 1649.1 L1631.9 1648.5 L1637.2 1647.9 L1642.5 1647.2 L1647.8 1646.5 L1653.1 1645.9 L1658.4 1645.2 L1663.6 1644.6 L1668.9 1643.9 L1674.2 1643.3 L1679.5 1642.6 L1684.8 1642 L1690.1 1641.3 L1695.4 1640.7 L1700.6 1640 L1705.9 1639.4 L1711.2 1638.8 L1716.5 1638.2 L1721.8 1637.5 L1727.1 1636.9 L1732.3 1636.3 L1737.6 1635.7 L1742.9 1635.2 L1748.2 1634.6 L1753.5 1634 L1758.8 1633.5 L1764 1632.9 L1769.3 1632.4 L1774.6 1631.8 L1779.9 1631.3 L1785.2 1630.7 L1790.5 1630.2 L1795.8 1629.6 L1801 1629.1 L1806.3 1628.5 L1811.6 1628 L1816.9 1627.5 L1822.2 1626.9 L1827.5 1626.4 L1832.7 1625.8 L1838 1625.3 L1843.3 1624.8 L1848.6 1624.3 L1853.9 1623.7 L1859.2 1623.2 L1864.4 1622.7 L1869.7 1622.2 L1875 1621.7 L1880.3 1621.2 L1885.6 1620.7 L1890.9 1620.2 L1896.1 1619.7 L1901.4 1619.2 L1906.7 1618.7 L1912 1618.2 L1917.3 1617.7 L1922.6 1617.3 L1927.9 1616.8 L1933.1 1616.4 L1938.4 1615.9 L1943.7 1615.5 L1949 1615.1 L1954.3 1614.7 L1959.6 1614.1 L1964.8 1613.6 L1970.1 1613.1 L1975.4 1612.7"/></g></g>
<filter id="f16" filterUnits="userSpaceOnUse" x="396" y="1402" width="230" height="255" color-interpolation-filters="sRGB"><feConvolveMatrix in="SourceGraphic" order="5 1" kernelMatrix="1 1 1 1 1" divisor="5" targetX="2" targetY="0" edgeMode="none" preserveAlpha="false" result="h"/><feConvolveMatrix in="h" order="1 5" kernelMatrix="1 1 1 1 1" divisor="5" targetX="0" targetY="2" edgeMode="none" preserveAlpha="false" result="a"/><feFlood x="398" y="1404" width="1" height="1" flood-color="#000" result="d"/><feOffset in="d" dx="0" dy="0" x="396" y="1402" width="5" height="5" result="c"/><feTile in="c" result="g"/><feComposite in="a" in2="g" operator="in" result="s"/><feMorphology in="s" operator="dilate" radius="2"/></filter>
<filter id="f17" filterUnits="userSpaceOnUse" x="626" y="1607" width="230" height="205" color-interpolation-filters="sRGB"><feConvolveMatrix in="SourceGraphic" order="5 1" kernelMatrix="1 1 1 1 1" divisor="5" targetX="2" targetY="0" edgeMode="none" preserveAlpha="false" result="h"/><feConvolveMatrix in="h" order="1 5" kernelMatrix="1 1 1 1 1" divisor="5" targetX="0" targetY="2" edgeMode="none" preserveAlpha="false" result="a"/><feFlood x="628" y="1609" width="1" height="1" flood-color="#000" result="d"/><feOffset in="d" dx="0" dy="0" x="626" y="1607" width="5" height="5" result="c"/><feTile in="c" result="g"/><feComposite in="a" in2="g" operator="in" result="s"/><feMorphology in="s" operator="dilate" radius="2"/></filter>
<filter id="f18" filterUnits="userSpaceOnUse" x="856" y="1762" width="230" height="185" color-interpolation-filters="sRGB"><feConvolveMatrix in="SourceGraphic" order="5 1" kernelMatrix="1 1 1 1 1" divisor="5" targetX="2" targetY="0" edgeMode="none" preserveAlpha="false" result="h"/><feConvolveMatrix in="h" order="1 5" kernelMatrix="1 1 1 1 1" divisor="5" targetX="0" targetY="2" edgeMode="none" preserveAlpha="false" result="a"/><feFlood x="858" y="1764" width="1" height="1" flood-color="#000" result="d"/><feOffset in="d" dx="0" dy="0" x="856" y="1762" width="5" height="5" result="c"/><feTile in="c" result="g"/><feComposite in="a" in2="g" operator="in" result="s"/><feMorphology in="s" operator="dilate" radius="2"/></filter>
<filter id="f19" filterUnits="userSpaceOnUse" x="1086" y="1882" width="230" height="145" color-interpolation-filters="sRGB"><feConvolveMatrix in="SourceGraphic" order="5 1" kernelMatrix="1 1 1 1 1" divisor="5" targetX="2" targetY="0" edgeMode="none" preserveAlpha="false" result="h"/><feConvolveMatrix in="h" order="1 5" kernelMatrix="1 1 1 1 1" divisor="5" targetX="0" targetY="2" edgeMode="none" preserveAlpha="false" result="a"/><feFlood x="1088" y="1884" width="1" height="1" flood-color="#000" result="d"/><feOffset in="d" dx="0" dy="0" x="1086" y="1882" width="5" height="5" result="c"/><feTile in="c" result="g"/><feComposite in="a" in2="g" operator="in" result="s"/><feMorphology in="s" operator="dilate" radius="2"/></filter>
<filter id="f20" filterUnits="userSpaceOnUse" x="1316" y="1952" width="230" height="90" color-interpolation-filters="sRGB"><feConvolveMatrix in="SourceGraphic" order="5 1" kernelMatrix="1 1 1 1 1" divisor="5" targetX="2" targetY="0" edgeMode="none" preserveAlpha="false" result="h"/><feConvolveMatrix in="h" order="1 5" kernelMatrix="1 1 1 1 1" divisor="5" targetX="0" targetY="2" edgeMode="none" preserveAlpha="false" result="a"/><feFlood x="1318" y="1954" width="1" height="1" flood-color="#000" result="d"/><feOffset in="d" dx="0" dy="0" x="1316" y="1952" width="5" height="5" result="c"/><feTile in="c" result="g"/><feComposite in="a" in2="g" operator="in" result="s"/><feMorphology in="s" operator="dilate" radius="2"/></filter>
<filter id="f21" filterUnits="userSpaceOnUse" x="1546" y="1407" width="465" height="635" color-interpolation-filters="sRGB"><feConvolveMatrix in="SourceGraphic" order="5 1" kernelMatrix="1 1 1 1 1" divisor="5" targetX="2" targetY="0" edgeMode="none" preserveAlpha="false" result="h"/><feConvolveMatrix in="h" order="1 5" kernelMatrix="1 1 1 1 1" divisor="5" targetX="0" targetY="2" edgeMode="none" preserveAlpha="false" result="a"/><feFlood x="1548" y="1409" width="1" height="1" flood-color="#000" result="d"/><feOffset in="d" dx="0" dy="0" x="1546" y="1407" width="5" height="5" result="c"/><feTile in="c" result="g"/><feComposite in="a" in2="g" operator="in" result="s"/><feMorphology in="s" operator="dilate" radius="2"/></filter>
<filter id="f22" filterUnits="userSpaceOnUse" x="376" y="2507" width="1625" height="85" color-interpolation-filters="sRGB"><feConvolveMatrix in="SourceGraphic" order="5 1" kernelMatrix="1 1 1 1 1" divisor="5" targetX="2" targetY="0" edgeMode="none" preserveAlpha="false" result="h"/><feConvolveMatrix in="h" order="1 5" kernelMatrix="1 1 1 1 1" divisor="5" targetX="0" targetY="2" edgeMode="none" preserveAlpha="false" result="a"/><feFlood x="378" y="2509" width="1" height="1" flood-color="#000" result="d"/><feOffset in="d" dx="0" dy="0" x="376" y="2507" width="5" height="5" result="c"/><feTile in="c" result="g"/><feComposite in="a" in2="g" operator="in" result="s"/><feMorphology in="s" operator="dilate" radius="2"/></filter>
<filter id="f23" filterUnits="userSpaceOnUse" x="106" y="2437" width="195" height="95" color-interpolation-filters="sRGB"><feConvolveMatrix in="SourceGraphic" order="5 1" kernelMatrix="1 1 1 1 1" divisor="5" targetX="2" targetY="0" edgeMode="none" preserveAlpha="false" result="h"/><feConvolveMatrix in="h" order="1 5" kernelMatrix="1 1 1 1 1" divisor="5" targetX="0" targetY="2" edgeMode="none" preserveAlpha="false" result="a"/><feFlood x="108" y="2439" width="1" height="1" flood-color="#000" result="d"/><feOffset in="d" dx="0" dy="0" x="106" y="2437" width="5" height="5" result="c"/><feTile in="c" result="g"/><feComposite in="a" in2="g" operator="in" result="s"/><feMorphology in="s" operator="dilate" radius="2"/></filter>
<filter id="f24" filterUnits="userSpaceOnUse" x="106" y="2207" width="195" height="95" color-interpolation-filters="sRGB"><feConvolveMatrix in="SourceGraphic" order="5 1" kernelMatrix="1 1 1 1 1" divisor="5" targetX="2" targetY="0" edgeMode="none" preserveAlpha="false" result="h"/><feConvolveMatrix in="h" order="1 5" kernelMatrix="1 1 1 1 1" divisor="5" targetX="0" targetY="2" edgeMode="none" preserveAlpha="false" result="a"/><feFlood x="108" y="2209" width="1" height="1" flood-color="#000" result="d"/><feOffset in="d" dx="0" dy="0" x="106" y="2207" width="5" height="5" result="c"/><feTile in="c" result="g"/><feComposite in="a" in2="g" operator="in" result="s"/><feMorphology in="s" operator="dilate" radius="2"/></filter>
<filter id="f25" filterUnits="userSpaceOnUse" x="106" y="1982" width="195" height="95" color-interpolation-filters="sRGB"><feConvolveMatrix in="SourceGraphic" order="5 1" kernelMatrix="1 1 1 1 1" divisor="5" targetX="2" targetY="0" edgeMode="none" preserveAlpha="false" result="h"/><feConvolveMatrix in="h" order="1 5" kernelMatrix="1 1 1 1 1" divisor="5" targetX="0" targetY="2" edgeMode="none" preserveAlpha="false" result="a"/><feFlood x="108" y="1984" width="1" height="1" flood-color="#000" result="d"/><feOffset in="d" dx="0" dy="0" x="106" y="1982" width="5" height="5" result="c"/><feTile in="c" result="g"/><feComposite in="a" in2="g" operator="in" result="s"/><feMorphology in="s" operator="dilate" radius="2"/></filter>
<filter id="f26" filterUnits="userSpaceOnUse" x="106" y="1752" width="195" height="95" color-interpolation-filters="sRGB"><feConvolveMatrix in="SourceGraphic" order="5 1" kernelMatrix="1 1 1 1 1" divisor="5" targetX="2" targetY="0" edgeMode="none" preserveAlpha="false" result="h"/><feConvolveMatrix in="h" order="1 5" kernelMatrix="1 1 1 1 1" divisor="5" targetX="0" targetY="2" edgeMode="none" preserveAlpha="false" result="a"/><feFlood x="108" y="1754" width="1" height="1" flood-color="#000" result="d"/><feOffset in="d" dx="0" dy="0" x="106" y="1752" width="5" height="5" result="c"/><feTile in="c" result="g"/><feComposite in="a" in2="g" operator="in" result="s"/><feMorphology in="s" operator="dilate" radius="2"/></filter>
<filter id="f27" filterUnits="userSpaceOnUse" x="106" y="1522" width="195" height="95" color-interpolation-filters="sRGB"><feConvolveMatrix in="SourceGraphic" order="5 1" kernelMatrix="1 1 1 1 1" divisor="5" targetX="2" targetY="0" edgeMode="none" preserveAlpha="false" result="h"/><feConvolveMatrix in="h" order="1 5" kernelMatrix="1 1 1 1 1" divisor="5" targetX="0" targetY="2" edgeMode="none" preserveAlpha="false" result="a"/><feFlood x="108" y="1524" width="1" height="1" flood-color="#000" result="d"/><feOffset in="d" dx="0" dy="0" x="106" y="1522" width="5" height="5" result="c"/><feTile in="c" result="g"/><feComposite in="a" in2="g" operator="in" result="s"/><feMorphology in="s" operator="dilate" radius="2"/></filter>
<filter id="f28" filterUnits="userSpaceOnUse" x="866" y="2597" width="600" height="75" color-interpolation-filters="sRGB"><feConvolveMatrix in="SourceGraphic" order="5 1" kernelMatrix="1 1 1 1 1" divisor="5" targetX="2" targetY="0" edgeMode="none" preserveAlpha="false" result="h"/><feConvolveMatrix in="h" order="1 5" kernelMatrix="1 1 1 1 1" divisor="5" targetX="0" targetY="2" edgeMode="none" preserveAlpha="false" result="a"/><feFlood x="868" y="2599" width="1" height="1" flood-color="#000" result="d"/><feOffset in="d" dx="0" dy="0" x="866" y="2597" width="5" height="5" result="c"/><feTile in="c" result="g"/><feComposite in="a" in2="g" operator="in" result="s"/><feMorphology in="s" operator="dilate" radius="2"/></filter>
<filter id="f29" filterUnits="userSpaceOnUse" x="26" y="1737" width="65" height="405" color-interpolation-filters="sRGB"><feConvolveMatrix in="SourceGraphic" order="5 1" kernelMatrix="1 1 1 1 1" divisor="5" targetX="2" targetY="0" edgeMode="none" preserveAlpha="false" result="h"/><feConvolveMatrix in="h" order="1 5" kernelMatrix="1 1 1 1 1" divisor="5" targetX="0" targetY="2" edgeMode="none" preserveAlpha="false" result="a"/><feFlood x="28" y="1739" width="1" height="1" flood-color="#000" result="d"/><feOffset in="d" dx="0" dy="0" x="26" y="1737" width="5" height="5" result="c"/><feTile in="c" result="g"/><feComposite in="a" in2="g" operator="in" result="s"/><feMorphology in="s" operator="dilate" radius="2"/></filter>
<filter id="f30" filterUnits="userSpaceOnUse" x="506" y="2147" width="375" height="305" color-interpolation-filters="sRGB"><feConvolveMatrix in="SourceGraphic" order="5 1" kernelMatrix="1 1 1 1 1" divisor="5" targetX="2" targetY="0" edgeMode="none" preserveAlpha="false" result="h"/><feConvolveMatrix in="h" order="1 5" kernelMatrix="1 1 1 1 1" divisor="5" targetX="0" targetY="2" edgeMode="none" preserveAlpha="false" result="a"/><feFlood x="508" y="2149" width="1" height="1" flood-color="#000" result="d"/><feOffset in="d" dx="0" dy="0" x="506" y="2147" width="5" height="5" result="c"/><feTile in="c" result="g"/><feComposite in="a" in2="g" operator="in" result="s"/><feMorphology in="s" operator="dilate" radius="2"/></filter>
<g id="plot3"><path fill="none" stroke="#808080" stroke-width="5" d="M1553.2 2758.4 L1756.7 3257.1 M1975.8 3030.7 L1924.3 3366.1"/><g fill="none" stroke-width="5" stroke-linejoin="round"><path stroke="#000000" d="M402.5 2810.2 L403.3 2810.9 L404.2 2811.4 L405 2811.7 L405.9 2812.1 L406.7 2812.4 L407.6 2812.7 L408.4 2813 L409.3 2813.3 L410.1 2813.5 L411 2813.8 L411.8 2814 L412.6 2814.3 L413.5 2814.6 L414.3 2814.8 L415.2 2815.1 L416 2815.4 L416.9 2815.7 L417.7 2816 L418.6 2816.4 L419.4 2816.7 L420.3 2817.1 L421.1 2817.4 L421.9 2817.8 L422.8 2818.2 L423.6 2818.7 L424.5 2819.3 L425.3 2820 L426.2 2820.8 L427 2821.7 L427.9 2822.6 L428.7 2823.4 L429.6 2824.3 L430.4 2825.2 L431.2 2826.1 L432.1 2827 L432.9 2827.9 L433.8 2828.8 L434.6 2829.6 L435.5 2830.4 L436.3 2831.2 L437.2 2832 L438 2832.7 L438.9 2833.4 L439.7 2834.1 L440.5 2834.7 L441.4 2835.3 L442.2 2835.9 L443.1 2836.4 L443.9 2837 L444.8 2837.5 L445.6 2838 L446.5 2838.6 L447.3 2839.1 L448.2 2839.6 L449 2840.2 L449.8 2840.8 L450.7 2841.3 L451.5 2842 L452.4 2842.6 L453.2 2843.2 L457.5 2846.9 L461.7 2851 L465.9 2855.2 L470.1 2859.3 L474.4 2863.6 L478.6 2867.9 L482.8 2871.9 L487 2875.8 L491.3 2879.5 L495.5 2883.2 L499.7 2887 L504 2891 L508.2 2895.1 L512.4 2898.9 L516.6 2902.3 L520.9 2905.4 L525.1 2908.4 L529.3 2911.5 L533.5 2914.6 L537.8 2917.6 L542 2920.6 L546.2 2923.6 L550.5 2926.5 L554.7 2929.5 L558.9 2932.6 L563.1 2935.8 L567.4 2939.2 L571.6 2942.6 L575.8 2945.7 L580 2948.8 L584.3 2951.8 L588.5 2954.9 L592.7 2958.1 L597 2961.2 L601.2 2964.3 L605.4 2967.4 L609.6 2970.5 L613.9 2973.6 L618.1 2976.7 L622.3 2979.8 L626.5 2982.9 L630.8 2986 L635 2989 L639.2 2992.1 L643.5 2995.2 L647.7 2998.2 L651.9 3001.3 L656.1 3004.3 L664.6 3010.4 L673 3016.4 L681.5 3022.5 L690 3028.5 L698.4 3034.4 L706.9 3040.4 L715.3 3046.3 L723.8 3052.2 L732.2 3058 L740.7 3063.8 L749.1 3069.6 L757.6 3075.4 L766 3081.1 L774.5 3086.8 L783 3092.4 L791.4 3098 L799.9 3103.5 L808.3 3109 L816.8 3114.5 L825.2 3119.9 L833.7 3125.2 L842.1 3130.6 L850.6 3135.8 L859 3141 L867.5 3146.2 L876 3151.3 L884.4 3156.3 L892.9 3161.3 L901.3 3166.3 L909.8 3171.1 L918.2 3175.9 L926.7 3180.7 L935.1 3185.4 L943.6 3190 L952 3194.5 L960.5 3199 L969 3203.4 L977.4 3207.8 L985.9 3212.1 L994.3 3216.3 L1002.8 3220.4 L1011.2 3224.5 L1019.7 3228.4 L1028.1 3232.3 L1036.6 3236.1 L1045 3239.9 L1053.5 3243.5 L1062 3247.1 L1070.4 3250.6 L1078.9 3254 L1087.3 3257.3 L1095.8 3260.6 L1104.2 3263.7 L1112.7 3266.8 L1121.1 3269.8 L1129.6 3272.7 L1138 3275.5 L1146.5 3278.2 L1155 3280.9 L1163.4 3283.4 L1171.9 3285.9 L1180.3 3288.4 L1188.8 3290.7 L1197.2 3293 L1205.7 3295.2 L1214.1 3297.3 L1222.6 3299.3 L1231 3301.3 L1239.5 3303.1 L1248 3305 L1256.4 3306.7 L1264.9 3308.4 L1273.3 3310 L1281.8 3311.5 L1290.2 3313 L1298.7 3314.4 L1307.1 3315.7 L1315.6 3316.9 L1324 3318.1 L1332.5 3319.2 L1341 3320.3 L1349.4 3321.3 L1357.9 3322.2 L1366.3 3323.1 L1374.8 3323.9 L1383.2 3324.6 L1391.7 3325.3 L1400.1 3325.9 L1408.6 3326.5 L1417 3327 L1425.5 3327.4 L1434 3327.8 L1442.4 3328.1 L1450.9 3328.3 L1459.3 3328.6 L1467.8 3328.7 L1476.2 3328.8 L1484.7 3328.8 L1493.1 3328.8 L1501.6 3328.7 L1510 3328.6 L1518.5 3328.4 L1527 3328.1 L1535.4 3327.8 L1543.9 3327.5 L1552.3 3327.1 L1560.8 3326.6 L1569.2 3326.1 L1577.7 3325.6 L1586.1 3325 L1594.6 3324.3 L1603 3323.6 L1611.5 3322.9 L1620 3322.2 L1628.4 3321.5 L1636.9 3320.7 L1645.3 3320 L1653.8 3319.3 L1662.2 3318.6 L1670.7 3317.9 L1679.1 3317.3 L1687.6 3316.7 L1696 3316.1 L1704.5 3315.5 L1713 3315 L1721.4 3314.6 L1729.9 3314.2 L1738.3 3314 L1746.8 3313.8 L1755.2 3313.8 L1763.7 3313.8 L1772.1 3313.8 L1780.6 3313.8 L1789 3313.7 L1797.5 3312.2 L1806 3310.1 L1814.4 3307.5 L1822.9 3304.8 L1831.3 3301.9 L1839.8 3298.7 L1848.2 3295.4 L1856.7 3292.9 L1865.1 3290.5 L1873.6 3288 L1882 3285.3 L1890.5 3282.2 L1899 3279.2 L1907.4 3276.9 L1915.9 3275.7 L1924.3 3275.2 L1926.8 3275.1"/><path stroke="#008000" d="M402.5 2803.5 L403.3 2803.8 L404.2 2804.2 L405 2804.6 L405.9 2805 L406.7 2805.4 L407.6 2805.8 L408.4 2806.1 L409.3 2806.5 L410.1 2806.9 L411 2807.3 L411.8 2807.7 L412.6 2808.1 L413.5 2808.5 L414.3 2808.9 L415.2 2809.2 L416 2809.6 L416.9 2810 L417.7 2810.4 L418.6 2810.8 L419.4 2811.2 L420.3 2811.6 L421.1 2812 L421.9 2812.4 L422.8 2812.8 L423.6 2813.2 L424.5 2813.9 L425.3 2814.8 L426.2 2815.9 L427 2816.9 L427.9 2818 L428.7 2818.9 L429.6 2819.8 L430.4 2820.7 L431.2 2821.6 L432.1 2822.5 L432.9 2823.4 L433.8 2824.2 L434.6 2825 L435.5 2825.8 L436.3 2826.6 L437.2 2827.3 L438 2828.1 L438.9 2829 L439.7 2829.9 L440.5 2830.8 L441.4 2831.7 L442.2 2832.6 L443.1 2833.3 L443.9 2834 L444.8 2834.5 L445.6 2835 L446.5 2835.4 L447.3 2835.8 L448.2 2836.1 L449 2836.5 L449.8 2836.8 L450.7 2837.2 L451.5 2837.6 L452.4 2838.1 L453.2 2838.6 L457.5 2842.3 L461.7 2846.8 L465.9 2851.4 L470.1 2855.7 L474.4 2860 L478.6 2864.2 L482.8 2868.3 L487 2872.1 L491.3 2875.8 L495.5 2879.5 L499.7 2883.4 L504 2887.7 L508.2 2892.1 L512.4 2896.1 L516.6 2899.6 L520.9 2902.8 L525.1 2905.8 L529.3 2909 L533.5 2912.1 L537.8 2915.2 L542 2918.3 L546.2 2921.3 L550.5 2924.2 L554.7 2927.2 L558.9 2930.3 L563.1 2933.5 L567.4 2936.8 L571.6 2940.1 L575.8 2943.3 L580 2946.3 L584.3 2949.3 L588.5 2952.4 L592.7 2955.5 L597 2958.7 L601.2 2961.8 L605.4 2965 L609.6 2968.1 L613.9 2971.3 L618.1 2974.4 L622.3 2977.6 L626.5 2980.8 L630.8 2984 L635 2987.1 L639.2 2990.3 L643.5 2993.5 L647.7 2996.7 L651.9 2999.8 L656.1 3003 L664.6 3009.4 L673 3015.7 L681.5 3022.1 L690 3028.4 L698.4 3034.7 L706.9 3041 L715.3 3047.2 L723.8 3053.4 L732.2 3059.6 L740.7 3065.8 L749.1 3071.9 L757.6 3078 L766 3084 L774.5 3090 L783 3096 L791.4 3101.9 L799.9 3107.8 L808.3 3113.6 L816.8 3119.4 L825.2 3125.1 L833.7 3130.7 L842.1 3136.3 L850.6 3141.8 L859 3147.3 L867.5 3152.6 L876 3158 L884.4 3163.2 L892.9 3168.3 L901.3 3173.4 L909.8 3178.4 L918.2 3183.4 L926.7 3188.3 L935.1 3193 L943.6 3197.8 L952 3202.4 L960.5 3207 L969 3211.4 L977.4 3215.8 L985.9 3220.2 L994.3 3224.4 L1002.8 3228.6 L1011.2 3232.7 L1019.7 3236.7 L1028.1 3240.7 L1036.6 3244.6 L1045 3248.4 L1053.5 3252.1 L1062 3255.7 L1070.4 3259.3 L1078.9 3262.8 L1087.3 3266.2 L1095.8 3269.5 L1104.2 3272.8 L1112.7 3275.9 L1121.1 3279 L1129.6 3282.1 L1138 3285 L1146.5 3287.9 L1155 3290.7 L1163.4 3293.4 L1171.9 3296 L1180.3 3298.6 L1188.8 3301.1 L1197.2 3303.5 L1205.7 3305.9 L1214.1 3308.2 L1222.6 3310.4 L1231 3312.5 L1239.5 3314.6 L1248 3316.6 L1256.4 3318.5 L1264.9 3320.3 L1273.3 3322.1 L1281.8 3323.8 L1290.2 3325.4 L1298.7 3327 L1307.1 3328.5 L1315.6 3329.9 L1324 3331.3 L1332.5 3332.6 L1341 3333.8 L1349.4 3335 L1357.9 3336.1 L1366.3 3337.1 L1374.8 3338.1 L1383.2 3338.9 L1391.7 3339.8 L1400.1 3340.5 L1408.6 3341.2 L1417 3341.8 L1425.5 3342.4 L1434 3342.9 L1442.4 3343.3 L1450.9 3343.6 L1459.3 3343.9 L1467.8 3344.1 L1476.2 3344.3 L1484.7 3344.3 L1493.1 3344.3 L1501.6 3344.2 L1510 3344.1 L1518.5 3343.9 L1527 3343.6 L1535.4 3343.2 L1543.9 3342.7 L1552.3 3342.2 L1560.8 3341.6 L1569.2 3340.9 L1577.7 3340.2 L1586.1 3339.4 L1594.6 3338.5 L1603 3337.5 L1611.5 3336.6 L1620 3335.5 L1628.4 3334.5 L1636.9 3333.4 L1645.3 3332.4 L1653.8 3331.3 L1662.2 3330.3 L1670.7 3329.3 L1679.1 3328.3 L1687.6 3327.4 L1696 3326.5 L1704.5 3325.6 L1713 3324.7 L1721.4 3323.9 L1729.9 3323.1 L1738.3 3322.4 L1746.8 3321.9 L1755.2 3321.7 L1763.7 3321.7 L1772.1 3321.7 L1780.6 3321.7 L1789 3321.7 L1797.5 3321.4 L1806 3320.7 L1814.4 3319.4 L1822.9 3317.4 L1831.3 3314.5 L1839.8 3311.7 L1848.2 3309 L1856.7 3306.7 L1865.1 3304.9 L1873.6 3303.7 L1882 3302.2 L1890.5 3300.2 L1899 3297 L1907.4 3293.5 L1915.9 3291.5 L1924.3 3290.3 L1926.8 3289.9"/><path stroke="#0000ff" d="M402.5 2787.5 L403.3 2788.2 L404.2 2788.8 L405 2789.5 L405.9 2790.1 L406.7 2790.7 L407.6 2791.3 L408.4 2791.9 L409.3 2792.5 L410.1 2793.1 L411 2793.7 L411.8 2794.2 L412.6 2794.8 L413.5 2795.3 L414.3 2795.9 L415.2 2796.4 L416 2796.9 L416.9 2797.5 L417.7 2798 L418.6 2798.5 L419.4 2799.1 L420.3 2799.7 L421.1 2800.4 L421.9 2801.1 L422.8 2801.8 L423.6 2802.6 L424.5 2803.3 L425.3 2804.2 L426.2 2805 L427 2805.9 L427.9 2806.9 L428.7 2807.8 L429.6 2808.7 L430.4 2809.7 L431.2 2810.6 L432.1 2811.6 L432.9 2812.6 L433.8 2813.5 L434.6 2814.4 L435.5 2815.4 L436.3 2816.3 L437.2 2817.3 L438 2818.2 L438.9 2819.2 L439.7 2820.2 L440.5 2821.1 L441.4 2822.1 L442.2 2823 L443.1 2824 L443.9 2824.9 L444.8 2825.8 L445.6 2826.6 L446.5 2827.5 L447.3 2828.3 L448.2 2829.2 L449 2830 L449.8 2830.9 L450.7 2831.7 L451.5 2832.6 L452.4 2833.5 L453.2 2834.4 L457.5 2839.2 L461.7 2843.9 L465.9 2848 L470.1 2851.8 L474.4 2855.7 L478.6 2859.7 L482.8 2863.5 L487 2867.1 L491.3 2870.6 L495.5 2874.6 L499.7 2879.1 L504 2883.4 L508.2 2887.2 L512.4 2890.5 L516.6 2893.7 L520.9 2896.9 L525.1 2900.2 L529.3 2903.6 L533.5 2907.2 L537.8 2910.9 L542 2914.3 L546.2 2917.6 L550.5 2920.7 L554.7 2923.9 L558.9 2927.1 L563.1 2930.4 L567.4 2933.6 L571.6 2936.8 L575.8 2939.9 L580 2942.9 L584.3 2946 L588.5 2949 L592.7 2952.1 L597 2955.3 L601.2 2958.5 L605.4 2961.7 L609.6 2965 L613.9 2968.4 L618.1 2971.7 L622.3 2975.2 L626.5 2978.6 L630.8 2982.1 L635 2985.5 L639.2 2989 L643.5 2992.5 L647.7 2996 L651.9 2999.5 L656.1 3003 L664.6 3010 L673 3016.8 L681.5 3023.5 L690 3030.1 L698.4 3036.6 L706.9 3042.9 L715.3 3049.2 L723.8 3055.3 L732.2 3061.4 L740.7 3067.5 L749.1 3073.6 L757.6 3079.6 L766 3085.7 L774.5 3091.8 L783 3098 L791.4 3104.1 L799.9 3110.3 L808.3 3116.6 L816.8 3122.7 L825.2 3128.9 L833.7 3135 L842.1 3141.1 L850.6 3147 L859 3152.9 L867.5 3158.7 L876 3164.3 L884.4 3169.8 L892.9 3175.1 L901.3 3180.3 L909.8 3185.4 L918.2 3190.4 L926.7 3195.3 L935.1 3200 L943.6 3204.7 L952 3209.2 L960.5 3213.7 L969 3218.1 L977.4 3222.4 L985.9 3226.6 L994.3 3230.8 L1002.8 3234.9 L1011.2 3238.9 L1019.7 3242.9 L1028.1 3246.8 L1036.6 3250.7 L1045 3254.5 L1053.5 3258.2 L1062 3261.9 L1070.4 3265.5 L1078.9 3269 L1087.3 3272.6 L1095.8 3276 L1104.2 3279.4 L1112.7 3282.7 L1121.1 3286 L1129.6 3289.2 L1138 3292.3 L1146.5 3295.4 L1155 3298.4 L1163.4 3301.3 L1171.9 3304.2 L1180.3 3306.9 L1188.8 3309.6 L1197.2 3312.2 L1205.7 3314.8 L1214.1 3317.2 L1222.6 3319.7 L1231 3322 L1239.5 3324.3 L1248 3326.5 L1256.4 3328.7 L1264.9 3330.8 L1273.3 3332.9 L1281.8 3335 L1290.2 3337 L1298.7 3338.9 L1307.1 3340.8 L1315.6 3342.6 L1324 3344.3 L1332.5 3346 L1341 3347.5 L1349.4 3348.9 L1357.9 3350.2 L1366.3 3351.4 L1374.8 3352.4 L1383.2 3353.2 L1391.7 3354 L1400.1 3354.6 L1408.6 3355 L1417 3355.4 L1425.5 3355.6 L1434 3355.8 L1442.4 3355.8 L1450.9 3355.8 L1459.3 3355.7 L1467.8 3355.6 L1476.2 3355.4 L1484.7 3355.2 L1493.1 3354.9 L1501.6 3354.6 L1510 3354.2 L1518.5 3353.7 L1527 3353.3 L1535.4 3352.7 L1543.9 3352.1 L1552.3 3351.5 L1560.8 3350.7 L1569.2 3349.9 L1577.7 3349.1 L1586.1 3348.1 L1594.6 3347.1 L1603 3346.1 L1611.5 3345 L1620 3343.8 L1628.4 3342.6 L1636.9 3341.5 L1645.3 3340.3 L1653.8 3339 L1662.2 3337.8 L1670.7 3336.7 L1679.1 3335.5 L1687.6 3334.4 L1696 3333.2 L1704.5 3332 L1713 3330.8 L1721.4 3329.5 L1729.9 3328.2 L1738.3 3327 L1746.8 3326 L1755.2 3325.5 L1763.7 3325.3 L1772.1 3325.2 L1780.6 3325.1 L1789 3324.9 L1797.5 3324.6 L1806 3324 L1814.4 3323.3 L1822.9 3322.5 L1831.3 3321.6 L1839.8 3320.4 L1848.2 3318.8 L1856.7 3317.5 L1865.1 3316.2 L1873.6 3314.8 L1882 3313.3 L1890.5 3311.5 L1899 3308.5 L1907.4 3304.9 L1915.9 3302.7 L1924.3 3301.1 L1926.8 3300.7"/><path stroke="#ff0000" d="M402.5 2761.3 L403.3 2764.9 L404.2 2768.1 L405 2770.9 L405.9 2773.5 L406.7 2776 L407.6 2778.5 L408.4 2781 L409.3 2784.3 L410.1 2788.4 L411 2792.8 L411.8 2796.7 L412.6 2800.6 L413.5 2804.4 L414.3 2808.6 L415.2 2812.9 L416 2817.3 L416.9 2821.4 L417.7 2825.3 L418.6 2828.9 L419.4 2831.9 L420.3 2834.9 L421.1 2837.7 L421.9 2840.4 L422.8 2843 L423.6 2845.6 L424.5 2848.3 L425.3 2850.9 L426.2 2853.4 L427 2855 L427.9 2856.5 L428.7 2857.8 L429.6 2859.2 L430.4 2860.8 L431.2 2862.2 L432.1 2863.6 L432.9 2865 L433.8 2866.4 L434.6 2867.7 L435.5 2869.1 L436.3 2870.4 L437.2 2871.6 L438 2872.7 L438.9 2873.7 L439.7 2874.7 L440.5 2875.6 L441.4 2876.4 L442.2 2877.2 L443.1 2877.9 L443.9 2878.7 L444.8 2879.4 L445.6 2880 L446.5 2880.6 L447.3 2881.3 L448.2 2881.8 L449 2882.4 L449.8 2883 L450.7 2883.5 L451.5 2884.1 L452.4 2884.6 L453.2 2885.2 L457.5 2887.9 L461.7 2890.2 L465.9 2892.1 L470.1 2893.7 L474.4 2895.5 L478.6 2897.2 L482.8 2899 L487 2900.8 L491.3 2902.6 L495.5 2904.3 L499.7 2906.1 L504 2907.9 L508.2 2909.5 L512.4 2910.8 L516.6 2912 L520.9 2913.4 L525.1 2915.5 L529.3 2917.6 L533.5 2919.7 L537.8 2921.7 L542 2923.7 L546.2 2925.7 L550.5 2927.7 L554.7 2929.7 L558.9 2931.8 L563.1 2933.8 L567.4 2935.9 L571.6 2938.1 L575.8 2940.3 L580 2942.5 L584.3 2944.8 L588.5 2947.1 L592.7 2949.5 L597 2951.9 L601.2 2954.3 L605.4 2956.7 L609.6 2959.2 L613.9 2961.7 L618.1 2964.2 L622.3 2966.7 L626.5 2969.3 L630.8 2971.8 L635 2974.4 L639.2 2977 L643.5 2979.7 L647.7 2982.4 L651.9 2985 L656.1 2987.7 L664.6 2993.2 L673 2998.7 L681.5 3004.3 L690 3010 L698.4 3015.7 L706.9 3021.5 L715.3 3027.3 L723.8 3033.2 L732.2 3039.1 L740.7 3045 L749.1 3051 L757.6 3057 L766 3063.1 L774.5 3069.1 L783 3075.2 L791.4 3081.3 L799.9 3087.4 L808.3 3093.5 L816.8 3099.6 L825.2 3105.7 L833.7 3111.8 L842.1 3117.9 L850.6 3124 L859 3130.1 L867.5 3136.1 L876 3142.1 L884.4 3148.1 L892.9 3154 L901.3 3159.9 L909.8 3165.7 L918.2 3171.5 L926.7 3177.3 L935.1 3183 L943.6 3188.6 L952 3194.2 L960.5 3199.7 L969 3205.1 L977.4 3210.4 L985.9 3215.7 L994.3 3220.9 L1002.8 3225.9 L1011.2 3231 L1019.7 3236 L1028.1 3240.8 L1036.6 3245.5 L1045 3250.2 L1053.5 3254.8 L1062 3259.3 L1070.4 3263.7 L1078.9 3268.1 L1087.3 3272.3 L1095.8 3276.5 L1104.2 3280.6 L1112.7 3284.6 L1121.1 3288.5 L1129.6 3292.4 L1138 3296.1 L1146.5 3299.8 L1155 3303.4 L1163.4 3306.9 L1171.9 3310.3 L1180.3 3313.6 L1188.8 3316.8 L1197.2 3320 L1205.7 3323 L1214.1 3326 L1222.6 3328.9 L1231 3331.7 L1239.5 3334.4 L1248 3337 L1256.4 3339.6 L1264.9 3342.1 L1273.3 3344.4 L1281.8 3346.7 L1290.2 3349 L1298.7 3351.1 L1307.1 3353.1 L1315.6 3355.1 L1324 3356.9 L1332.5 3358.7 L1341 3360.4 L1349.4 3361.9 L1357.9 3363.4 L1366.3 3364.8 L1374.8 3366 L1383.2 3367 L1391.7 3367.9 L1400.1 3368.8 L1408.6 3369.7 L1417 3370.5 L1425.5 3371.2 L1434 3371.8 L1442.4 3372.4 L1450.9 3372.8 L1459.3 3373.1 L1467.8 3373.4 L1476.2 3373.5 L1484.7 3373.6 L1493.1 3373.6 L1501.6 3373.4 L1510 3373.2 L1518.5 3373 L1527 3372.6 L1535.4 3372.2 L1543.9 3371.6 L1552.3 3371.1 L1560.8 3370.4 L1569.2 3369.7 L1577.7 3368.9 L1586.1 3368.1 L1594.6 3367.3 L1603 3366.5 L1611.5 3365.7 L1620 3364.8 L1628.4 3363.9 L1636.9 3362.9 L1645.3 3361.9 L1653.8 3360.9 L1662.2 3359.8 L1670.7 3358.6 L1679.1 3357.3 L1687.6 3356 L1696 3354.6 L1704.5 3353.1 L1713 3351.6 L1721.4 3350.1 L1729.9 3348.6 L1738.3 3347.1 L1746.8 3345.7 L1755.2 3344.4 L1763.7 3343 L1772.1 3341.5 L1780.6 3340 L1789 3338.6 L1797.5 3337.1 L1806 3335.7 L1814.4 3334.3 L1822.9 3333 L1831.3 3331.7 L1839.8 3330.6 L1848.2 3329.4 L1856.7 3328.3 L1865.1 3327.3 L1873.6 3326.2 L1882 3325.2 L1890.5 3324.2 L1899 3323.3 L1907.4 3322.4 L1915.9 3321.6 L1924.3 3320.7 L1926.8 3320.4"/><path stroke="#000000" d="M1552.7 2941.4 L1558 2941.4 L1563.2 2941.4 L1568.5 2941.4 L1573.8 2941.4 L1579.1 2941.4 L1584.4 2941.4 L1589.7 2941.4 L1595 2941.4 L1600.2 2941.4 L1605.5 2941.4 L1610.8 2941.4 L1616.1 2941.4 L1621.4 2941.4 L1626.7 2941.4 L1631.9 2941.4 L1637.2 2941.3 L1642.5 2940.8 L1647.8 2940 L1653.1 2939 L1658.4 2937.9 L1663.6 2936.6 L1668.9 2935.3 L1674.2 2934 L1679.5 2932.7 L1684.8 2931.4 L1690.1 2929.9 L1695.4 2928.3 L1700.6 2926.6 L1705.9 2924.9 L1711.2 2923.2 L1716.5 2921.5 L1721.8 2919.7 L1727.1 2918 L1732.3 2916.2 L1737.6 2914.3 L1742.9 2912.4 L1748.2 2910.4 L1753.5 2908.4 L1758.8 2906.2 L1764 2903.9 L1769.3 2901.6 L1774.6 2899.3 L1779.9 2897.1 L1785.2 2895 L1790.5 2893.1 L1795.8 2891.3 L1801 2889.5 L1806.3 2887.9 L1811.6 2886.2 L1816.9 2884.5 L1822.2 2882.8 L1827.5 2881 L1832.7 2879.3 L1838 2877.5 L1843.3 2875.7 L1848.6 2873.9 L1853.9 2872 L1859.2 2870 L1864.4 2867.9 L1869.7 2865.6 L1875 2863.2 L1880.3 2860.7 L1885.6 2858.3 L1890.9 2855.8 L1896.1 2853.5 L1901.4 2851.2 L1906.7 2848.8 L1912 2846.4 L1917.3 2844 L1922.6 2841.9 L1927.9 2840 L1933.1 2838.7 L1938.4 2837.6 L1943.7 2836.6 L1949 2835.7 L1954.3 2834.8 L1959.6 2834.1 L1964.8 2833.5 L1970.1 2833.2 L1975.4 2833.1"/><path stroke="#008000" d="M1552.7 2958.9 L1558 2958.9 L1563.2 2958.9 L1568.5 2958.9 L1573.8 2958.9 L1579.1 2958.9 L1584.4 2958.9 L1589.7 2958.9 L1595 2958.9 L1600.2 2958.9 L1605.5 2958.9 L1610.8 2958.9 L1616.1 2958.9 L1621.4 2958.9 L1626.7 2958.9 L1631.9 2958.9 L1637.2 2958.9 L1642.5 2958.9 L1647.8 2958.8 L1653.1 2958.6 L1658.4 2958.3 L1663.6 2958 L1668.9 2957.7 L1674.2 2957.3 L1679.5 2956.9 L1684.8 2956.3 L1690.1 2955.7 L1695.4 2954.9 L1700.6 2954 L1705.9 2953.1 L1711.2 2952.1 L1716.5 2951 L1721.8 2949.6 L1727.1 2948.1 L1732.3 2946.5 L1737.6 2944.7 L1742.9 2943 L1748.2 2941.3 L1753.5 2939.7 L1758.8 2938.1 L1764 2936.5 L1769.3 2934.8 L1774.6 2933.3 L1779.9 2931.7 L1785.2 2930.2 L1790.5 2928.8 L1795.8 2927.3 L1801 2925.9 L1806.3 2924.5 L1811.6 2923.2 L1816.9 2922 L1822.2 2920.9 L1827.5 2919.9 L1832.7 2919.1 L1838 2918.4 L1843.3 2917.7 L1848.6 2917 L1853.9 2916.2 L1859.2 2915.3 L1864.4 2914.3 L1869.7 2913.2 L1875 2912.1 L1880.3 2910.8 L1885.6 2909.4 L1890.9 2907.9 L1896.1 2906.3 L1901.4 2904.4 L1906.7 2902.1 L1912 2899.5 L1917.3 2896.8 L1922.6 2894.1 L1927.9 2891.7 L1933.1 2889.8 L1938.4 2888.2 L1943.7 2886.7 L1949 2885.3 L1954.3 2884 L1959.6 2882.9 L1964.8 2881.9 L1970.1 2881.1 L1975.4 2880.5"/><path stroke="#0000ff" d="M1552.7 2966.8 L1558 2966.7 L1563.2 2966.6 L1568.5 2966.5 L1573.8 2966.4 L1579.1 2966.3 L1584.4 2966.3 L1589.7 2966.2 L1595 2966.2 L1600.2 2966.1 L1605.5 2966.1 L1610.8 2966 L1616.1 2965.9 L1621.4 2965.9 L1626.7 2965.8 L1631.9 2965.7 L1637.2 2965.6 L1642.5 2965.5 L1647.8 2965.3 L1653.1 2965.1 L1658.4 2964.9 L1663.6 2964.7 L1668.9 2964.4 L1674.2 2964.1 L1679.5 2963.8 L1684.8 2963.5 L1690.1 2963.1 L1695.4 2962.7 L1700.6 2962.3 L1705.9 2961.9 L1711.2 2961.5 L1716.5 2961.1 L1721.8 2960.6 L1727.1 2960.2 L1732.3 2959.8 L1737.6 2959.3 L1742.9 2958.8 L1748.2 2958.2 L1753.5 2957.6 L1758.8 2956.8 L1764 2956 L1769.3 2955.2 L1774.6 2954.3 L1779.9 2953.4 L1785.2 2952.6 L1790.5 2951.9 L1795.8 2951.2 L1801 2950.5 L1806.3 2949.8 L1811.6 2949.1 L1816.9 2948.4 L1822.2 2947.7 L1827.5 2947 L1832.7 2946.2 L1838 2945.4 L1843.3 2944.7 L1848.6 2943.8 L1853.9 2943 L1859.2 2942.1 L1864.4 2941.2 L1869.7 2940.3 L1875 2939.4 L1880.3 2938.4 L1885.6 2937.3 L1890.9 2936.2 L1896.1 2934.9 L1901.4 2933.3 L1906.7 2931.2 L1912 2929 L1917.3 2926.6 L1922.6 2924.2 L1927.9 2922 L1933.1 2920.1 L1938.4 2918.6 L1943.7 2917.1 L1949 2915.7 L1954.3 2914.4 L1959.6 2913.2 L1964.8 2912.1 L1970.1 2911.2 L1975.4 2910.4"/><path stroke="#ff0000" d="M1552.7 3001.9 L1558 3001.3 L1563.2 3000.7 L1568.5 3000.1 L1573.8 2999.5 L1579.1 2998.9 L1584.4 2998.3 L1589.7 2997.7 L1595 2997 L1600.2 2996.4 L1605.5 2995.7 L1610.8 2995.1 L1616.1 2994.4 L1621.4 2993.8 L1626.7 2993.1 L1631.9 2992.5 L1637.2 2991.9 L1642.5 2991.2 L1647.8 2990.5 L1653.1 2989.9 L1658.4 2989.2 L1663.6 2988.6 L1668.9 2987.9 L1674.2 2987.3 L1679.5 2986.6 L1684.8 2986 L1690.1 2985.3 L1695.4 2984.7 L1700.6 2984 L1705.9 2983.4 L1711.2 2982.8 L1716.5 2982.2 L1721.8 2981.5 L1727.1 2980.9 L1732.3 2980.3 L1737.6 2979.7 L1742.9 2979.2 L1748.2 2978.6 L1753.5 2978 L1758.8 2977.5 L1764 2976.9 L1769.3 2976.4 L1774.6 2975.8 L1779.9 2975.3 L1785.2 2974.7 L1790.5 2974.2 L1795.8 2973.6 L1801 2973.1 L1806.3 2972.5 L1811.6 2972 L1816.9 2971.5 L1822.2 2970.9 L1827.5 2970.4 L1832.7 2969.8 L1838 2969.3 L1843.3 2968.8 L1848.6 2968.3 L1853.9 2967.7 L1859.2 2967.2 L1864.4 2966.7 L1869.7 2966.2 L1875 2965.7 L1880.3 2965.2 L1885.6 2964.7 L1890.9 2964.2 L1896.1 2963.7 L1901.4 2963.2 L1906.7 2962.7 L1912 2962.2 L1917.3 2961.7 L1922.6 2961.3 L1927.9 2960.8 L1933.1 2960.4 L1938.4 2959.9 L1943.7 2959.5 L1949 2959.1 L1954.3 2958.7 L1959.6 2958.1 L1964.8 2957.6 L1970.1 2957.1 L1975.4 2956.7"/></g></g>
<filter id="f31" filterUnits="userSpaceOnUse" x="396" y="2746" width="230" height="255" color-interpolation-filters="sRGB"><feConvolveMatrix in="SourceGraphic" order="5 1" kernelMatrix="1 1 1 1 1" divisor="5" targetX="2" targetY="0" edgeMode="none" preserveAlpha="false" result="h"/><feConvolveMatrix in="h" order="1 5" kernelMatrix="1 1 1 1 1" divisor="5" targetX="0" targetY="2" edgeMode="none" preserveAlpha="false" result="a"/><feFlood x="398" y="2748" width="1" height="1" flood-color="#000" result="d"/><feOffset in="d" dx="0" dy="0" x="396" y="2746" width="5" height="5" result="c"/><feTile in="c" result="g"/><feComposite in="a" in2="g" operator="in" result="s"/><feMorphology in="s" operator="dilate" radius="2"/></filter>
<filter id="f32" filterUnits="userSpaceOnUse" x="626" y="2951" width="230" height="220" color-interpolation-filters="sRGB"><feConvolveMatrix in="SourceGraphic" order="5 1" kernelMatrix="1 1 1 1 1" divisor="5" targetX="2" targetY="0" edgeMode="none" preserveAlpha="false" result="h"/><feConvolveMatrix in="h" order="1 5" kernelMatrix="1 1 1 1 1" divisor="5" targetX="0" targetY="2" edgeMode="none" preserveAlpha="false" result="a"/><feFlood x="628" y="2953" width="1" height="1" flood-color="#000" result="d"/><feOffset in="d" dx="0" dy="0" x="626" y="2951" width="5" height="5" result="c"/><feTile in="c" result="g"/><feComposite in="a" in2="g" operator="in" result="s"/><feMorphology in="s" operator="dilate" radius="2"/></filter>
<filter id="f33" filterUnits="userSpaceOnUse" x="856" y="3111" width="230" height="180" color-interpolation-filters="sRGB"><feConvolveMatrix in="SourceGraphic" order="5 1" kernelMatrix="1 1 1 1 1" divisor="5" targetX="2" targetY="0" edgeMode="none" preserveAlpha="false" result="h"/><feConvolveMatrix in="h" order="1 5" kernelMatrix="1 1 1 1 1" divisor="5" targetX="0" targetY="2" edgeMode="none" preserveAlpha="false" result="a"/><feFlood x="858" y="3113" width="1" height="1" flood-color="#000" result="d"/><feOffset in="d" dx="0" dy="0" x="856" y="3111" width="5" height="5" result="c"/><feTile in="c" result="g"/><feComposite in="a" in2="g" operator="in" result="s"/><feMorphology in="s" operator="dilate" radius="2"/></filter>
<filter id="f34" filterUnits="userSpaceOnUse" x="1086" y="3241" width="230" height="130" color-interpolation-filters="sRGB"><feConvolveMatrix in="SourceGraphic" order="5 1" kernelMatrix="1 1 1 1 1" divisor="5" targetX="2" targetY="0" edgeMode="none" preserveAlpha="false" result="h"/><feConvolveMatrix in="h" order="1 5" kernelMatrix="1 1 1 1 1" divisor="5" targetX="0" targetY="2" edgeMode="none" preserveAlpha="false" result="a"/><feFlood x="1088" y="3243" width="1" height="1" flood-color="#000" result="d"/><feOffset in="d" dx="0" dy="0" x="1086" y="3241" width="5" height="5" result="c"/><feTile in="c" result="g"/><feComposite in="a" in2="g" operator="in" result="s"/><feMorphology in="s" operator="dilate" radius="2"/></filter>
<filter id="f35" filterUnits="userSpaceOnUse" x="1316" y="3301" width="230" height="85" color-interpolation-filters="sRGB"><feConvolveMatrix in="SourceGraphic" order="5 1" kernelMatrix="1 1 1 1 1" divisor="5" targetX="2" targetY="0" edgeMode="none" preserveAlpha="false" result="h"/><feConvolveMatrix in="h" order="1 5" kernelMatrix="1 1 1 1 1" divisor="5" targetX="0" targetY="2" edgeMode="none" preserveAlpha="false" result="a"/><feFlood x="1318" y="3303" width="1" height="1" flood-color="#000" result="d"/><feOffset in="d" dx="0" dy="0" x="1316" y="3301" width="5" height="5" result="c"/><feTile in="c" result="g"/><feComposite in="a" in2="g" operator="in" result="s"/><feMorphology in="s" operator="dilate" radius="2"/></filter>
<filter id="f36" filterUnits="userSpaceOnUse" x="1546" y="2751" width="465" height="635" color-interpolation-filters="sRGB"><feConvolveMatrix in="SourceGraphic" order="5 1" kernelMatrix="1 1 1 1 1" divisor="5" targetX="2" targetY="0" edgeMode="none" preserveAlpha="false" result="h"/><feConvolveMatrix in="h" order="1 5" kernelMatrix="1 1 1 1 1" divisor="5" targetX="0" targetY="2" edgeMode="none" preserveAlpha="false" result="a"/><feFlood x="1548" y="2753" width="1" height="1" flood-color="#000" result="d"/><feOffset in="d" dx="0" dy="0" x="1546" y="2751" width="5" height="5" result="c"/><feTile in="c" result="g"/><feComposite in="a" in2="g" operator="in" result="s"/><feMorphology in="s" operator="dilate" radius="2"/></filter>
<filter id="f37" filterUnits="userSpaceOnUse" x="376" y="3851" width="1625" height="85" color-interpolation-filters="sRGB"><feConvolveMatrix in="SourceGraphic" order="5 1" kernelMatrix="1 1 1 1 1" divisor="5" targetX="2" targetY="0" edgeMode="none" preserveAlpha="false" result="h"/><feConvolveMatrix in="h" order="1 5" kernelMatrix="1 1 1 1 1" divisor="5" targetX="0" targetY="2" edgeMode="none" preserveAlpha="false" result="a"/><feFlood x="378" y="3853" width="1" height="1" flood-color="#000" result="d"/><feOffset in="d" dx="0" dy="0" x="376" y="3851" width="5" height="5" result="c"/><feTile in="c" result="g"/><feComposite in="a" in2="g" operator="in" result="s"/><feMorphology in="s" operator="dilate" radius="2"/></filter>
<filter id="f38" filterUnits="userSpaceOnUse" x="106" y="3781" width="195" height="95" color-interpolation-filters="sRGB"><feConvolveMatrix in="SourceGraphic" order="5 1" kernelMatrix="1 1 1 1 1" divisor="5" targetX="2" targetY="0" edgeMode="none" preserveAlpha="false" result="h"/><feConvolveMatrix in="h" order="1 5" kernelMatrix="1 1 1 1 1" divisor="5" targetX="0" targetY="2" edgeMode="none" preserveAlpha="false" result="a"/><feFlood x="108" y="3783" width="1" height="1" flood-color="#000" result="d"/><feOffset in="d" dx="0" dy="0" x="106" y="3781" width="5" height="5" result="c"/><feTile in="c" result="g"/><feComposite in="a" in2="g" operator="in" result="s"/><feMorphology in="s" operator="dilate" radius="2"/></filter>
<filter id="f39" filterUnits="userSpaceOnUse" x="106" y="3551" width="195" height="95" color-interpolation-filters="sRGB"><feConvolveMatrix in="SourceGraphic" order="5 1" kernelMatrix="1 1 1 1 1" divisor="5" targetX="2" targetY="0" edgeMode="none" preserveAlpha="false" result="h"/><feConvolveMatrix in="h" order="1 5" kernelMatrix="1 1 1 1 1" divisor="5" targetX="0" targetY="2" edgeMode="none" preserveAlpha="false" result="a"/><feFlood x="108" y="3553" width="1" height="1" flood-color="#000" result="d"/><feOffset in="d" dx="0" dy="0" x="106" y="3551" width="5" height="5" result="c"/><feTile in="c" result="g"/><feComposite in="a" in2="g" operator="in" result="s"/><feMorphology in="s" operator="dilate" radius="2"/></filter>
<filter id="f40" filterUnits="userSpaceOnUse" x="106" y="3326" width="195" height="95" color-interpolation-filters="sRGB"><feConvolveMatrix in="SourceGraphic" order="5 1" kernelMatrix="1 1 1 1 1" divisor="5" targetX="2" targetY="0" edgeMode="none" preserveAlpha="false" result="h"/><feConvolveMatrix in="h" order="1 5" kernelMatrix="1 1 1 1 1" divisor="5" targetX="0" targetY="2" edgeMode="none" preserveAlpha="false" result="a"/><feFlood x="108" y="3328" width="1" height="1" flood-color="#000" result="d"/><feOffset in="d" dx="0" dy="0" x="106" y="3326" width="5" height="5" result="c"/><feTile in="c" result="g"/><feComposite in="a" in2="g" operator="in" result="s"/><feMorphology in="s" operator="dilate" radius="2"/></filter>
<filter id="f41" filterUnits="userSpaceOnUse" x="106" y="3096" width="195" height="95" color-interpolation-filters="sRGB"><feConvolveMatrix in="SourceGraphic" order="5 1" kernelMatrix="1 1 1 1 1" divisor="5" targetX="2" targetY="0" edgeMode="none" preserveAlpha="false" result="h"/><feConvolveMatrix in="h" order="1 5" kernelMatrix="1 1 1 1 1" divisor="5" targetX="0" targetY="2" edgeMode="none" preserveAlpha="false" result="a"/><feFlood x="108" y="3098" width="1" height="1" flood-color="#000" result="d"/><feOffset in="d" dx="0" dy="0" x="106" y="3096" width="5" height="5" result="c"/><feTile in="c" result="g"/><feComposite in="a" in2="g" operator="in" result="s"/><feMorphology in="s" operator="dilate" radius="2"/></filter>
<filter id="f42" filterUnits="userSpaceOnUse" x="106" y="2866" width="195" height="95" color-interpolation-filters="sRGB"><feConvolveMatrix in="SourceGraphic" order="5 1" kernelMatrix="1 1 1 1 1" divisor="5" targetX="2" targetY="0" edgeMode="none" preserveAlpha="false" result="h"/><feConvolveMatrix in="h" order="1 5" kernelMatrix="1 1 1 1 1" divisor="5" targetX="0" targetY="2" edgeMode="none" preserveAlpha="false" result="a"/><feFlood x="108" y="2868" width="1" height="1" flood-color="#000" result="d"/><feOffset in="d" dx="0" dy="0" x="106" y="2866" width="5" height="5" result="c"/><feTile in="c" result="g"/><feComposite in="a" in2="g" operator="in" result="s"/><feMorphology in="s" operator="dilate" radius="2"/></filter>
<filter id="f43" filterUnits="userSpaceOnUse" x="866" y="3941" width="600" height="75" color-interpolation-filters="sRGB"><feConvolveMatrix in="SourceGraphic" order="5 1" kernelMatrix="1 1 1 1 1" divisor="5" targetX="2" targetY="0" edgeMode="none" preserveAlpha="false" result="h"/><feConvolveMatrix in="h" order="1 5" kernelMatrix="1 1 1 1 1" divisor="5" targetX="0" targetY="2" edgeMode="none" preserveAlpha="false" result="a"/><feFlood x="868" y="3943" width="1" height="1" flood-color="#000" result="d"/><feOffset in="d" dx="0" dy="0" x="866" y="3941" width="5" height="5" result="c"/><feTile in="c" result="g"/><feComposite in="a" in2="g" operator="in" result="s"/><feMorphology in="s" operator="dilate" radius="2"/></filter>
<filter id="f44" filterUnits="userSpaceOnUse" x="26" y="3081" width="65" height="405" color-interpolation-filters="sRGB"><feConvolveMatrix in="SourceGraphic" order="5 1" kernelMatrix="1 1 1 1 1" divisor="5" targetX="2" targetY="0" edgeMode="none" preserveAlpha="false" result="h"/><feConvolveMatrix in="h" order="1 5" kernelMatrix="1 1 1 1 1" divisor="5" targetX="0" targetY="2" edgeMode="none" preserveAlpha="false" result="a"/><feFlood x="28" y="3083" width="1" height="1" flood-color="#000" result="d"/><feOffset in="d" dx="0" dy="0" x="26" y="3081" width="5" height="5" result="c"/><feTile in="c" result="g"/><feComposite in="a" in2="g" operator="in" result="s"/><feMorphology in="s" operator="dilate" radius="2"/></filter>
<filter id="f45" filterUnits="userSpaceOnUse" x="506" y="3491" width="375" height="305" color-interpolation-filters="sRGB"><feConvolveMatrix in="SourceGraphic" order="5 1" kernelMatrix="1 1 1 1 1" divisor="5" targetX="2" targetY="0" edgeMode="none" preserveAlpha="false" result="h"/><feConvolveMatrix in="h" order="1 5" kernelMatrix="1 1 1 1 1" divisor="5" targetX="0" targetY="2" edgeMode="none" preserveAlpha="false" result="a"/><feFlood x="508" y="3493" width="1" height="1" flood-color="#000" result="d"/><feOffset in="d" dx="0" dy="0" x="506" y="3491" width="5" height="5" result="c"/><feTile in="c" result="g"/><feComposite in="a" in2="g" operator="in" result="s"/><feMorphology in="s" operator="dilate" radius="2"/></filter>
</defs>
<rect x="0" y="0" width="2058" height="4028" fill="#fff"/>
<g id="panel1">
<rect fill="none" stroke="#808080" stroke-width="5" x="1758.5" y="591.5" width="170" height="105"/>
<g filter="url(#f1)"><use href="#plot1"/></g>
<g filter="url(#f2)"><use href="#plot1"/></g>
<g filter="url(#f3)"><use href="#plot1"/></g>
<g filter="url(#f4)"><use href="#plot1"/></g>
<g filter="url(#f5)"><use href="#plot1"/></g>
<g filter="url(#f6)"><use href="#plot1"/></g>
<g fill="#000" shape-rendering="crispEdges">
<path fill-opacity="0.6" d="M321 1069H326v5H321zM321 1029H326v5H321zM321 999H326v5H321zM321 979H326v5H321zM321 964H326v5H321zM321 949H326v5H321zM321 934H326v5H321zM321 924H326v5H321zM321 849H326v5H321zM321 809H326v5H321zM321 784H326v5H321zM321 759H326v5H321zM321 744H326v5H321zM321 729H326v5H321zM321 714H326v5H321zM321 704H326v5H321zM321 629H326v5H321zM321 589H326v5H321zM321 564H326v5H321zM321 539H326v5H321zM321 524H326v5H321zM321 509H326v5H321zM321 499H326v5H321zM321 484H326v5H321zM321 409H326v5H321zM321 369H326v5H321zM321 344H326v5H321zM321 324H326v5H321zM321 304H326v5H321zM321 289H326v5H321zM321 279H326v5H321zM321 264H326v5H321zM321 189H326v5H321zM321 154H326v5H321zM321 124H326v5H321zM321 104H326v5H321zM321 84H326v5H321zM321 69H326v5H321zM321 59H326v5H321zM321 49H326v5H321z"/>
<path fill-opacity="0.3" d="M316 1069h5v5h-5zM326 1069h5v5h-5zM316 1029h5v5h-5zM326 1029h5v5h-5zM316 999h5v5h-5zM326 999h5v5h-5zM316 979h5v5h-5zM326 979h5v5h-5zM316 964h5v5h-5zM326 964h5v5h-5zM316 949h5v5h-5zM326 949h5v5h-5zM316 934h5v5h-5zM326 934h5v5h-5zM316 924h5v5h-5zM326 924h5v5h-5zM316 849h5v5h-5zM326 849h5v5h-5zM316 809h5v5h-5zM326 809h5v5h-5zM316 784h5v5h-5zM326 784h5v5h-5zM316 759h5v5h-5zM326 759h5v5h-5zM316 744h5v5h-5zM326 744h5v5h-5zM316 729h5v5h-5zM326 729h5v5h-5zM316 714h5v5h-5zM326 714h5v5h-5zM316 704h5v5h-5zM326 704h5v5h-5zM316 629h5v5h-5zM326 629h5v5h-5zM316 589h5v5h-5zM326 589h5v5h-5zM316 564h5v5h-5zM326 564h5v5h-5zM316 539h5v5h-5zM326 539h5v5h-5zM316 524h5v5h-5zM326 524h5v5h-5zM316 509h5v5h-5zM326 509h5v5h-5zM316 499h5v5h-5zM326 499h5v5h-5zM316 484h5v5h-5zM326 484h5v5h-5zM316 409h5v5h-5zM326 409h5v5h-5zM316 369h5v5h-5zM326 369h5v5h-5zM316 344h5v5h-5zM326 344h5v5h-5zM316 324h5v5h-5zM326 324h5v5h-5zM316 304h5v5h-5zM326 304h5v5h-5zM316 289h5v5h-5zM326 289h5v5h-5zM316 279h5v5h-5zM326 279h5v5h-5zM316 264h5v5h-5zM326 264h5v5h-5zM316 189h5v5h-5zM326 189h5v5h-5zM316 154h5v5h-5zM326 154h5v5h-5zM316 124h5v5h-5zM326 124h5v5h-5zM316 104h5v5h-5zM326 104h5v5h-5zM316 84h5v5h-5zM326 84h5v5h-5zM316 69h5v5h-5zM326 69h5v5h-5zM316 59h5v5h-5zM326 59h5v5h-5zM316 49h5v5h-5zM326 49h5v5h-5z"/>
<path fill-opacity="0.8" d="M401 1139V1154h5V1139zM571 1139V1154h5V1139zM741 1139V1154h5V1139zM911 1139V1154h5V1139zM1081 1139V1154h5V1139zM1246 1139V1154h5V1139zM1416 1139V1154h5V1139zM1586 1139V1154h5V1139zM1756 1139V1154h5V1139zM1926 1139V1154h5V1139zM316 1134H326v5H316zM316 914H326v5H316zM316 694H326v5H316zM316 474H326v5H316zM316 254H326v5H316zM1541 69H1551v5H1541zM1541 204H1551v5H1541zM1541 334H1551v5H1541zM1551 339V354h5V339zM1976 339V354h5V339z"/>
<path fill-opacity="0.4" d="M401 1154h5v5h-5zM401 1134h5v5h-5zM571 1154h5v5h-5zM571 1134h5v5h-5zM741 1154h5v5h-5zM741 1134h5v5h-5zM911 1154h5v5h-5zM911 1134h5v5h-5zM1081 1154h5v5h-5zM1081 1134h5v5h-5zM1246 1154h5v5h-5zM1246 1134h5v5h-5zM1416 1154h5v5h-5zM1416 1134h5v5h-5zM1586 1154h5v5h-5zM1586 1134h5v5h-5zM1756 1154h5v5h-5zM1756 1134h5v5h-5zM1926 1154h5v5h-5zM1926 1134h5v5h-5zM311 1134h5v5h-5zM326 1134h5v5h-5zM311 914h5v5h-5zM326 914h5v5h-5zM311 694h5v5h-5zM326 694h5v5h-5zM311 474h5v5h-5zM326 474h5v5h-5zM311 254h5v5h-5zM326 254h5v5h-5zM1536 69h5v5h-5zM1551 69h5v5h-5zM1536 204h5v5h-5zM1551 204h5v5h-5zM1536 334h5v5h-5zM1551 334h5v5h-5zM1551 354h5v5h-5zM1551 334h5v5h-5zM1976 354h5v5h-5zM1976 334h5v5h-5z"/>
<path fill-opacity="0.8" d="M326 44H2006v5H326zM326 1134H2006v5H326zM1551 69H1981v5H1551zM1551 334H1981v5H1551z"/>
<path fill-opacity="0.8" d="M326 44V1139h5V44zM2001 44V1139h5V44zM1551 69V339h5V69zM1976 69V339h5V69z"/>
</g>
<g font-size="80" filter="url(#f7)">
<text x="381" y="1233.4">0</text>
<text x="526 566" y="1233.4">20</text>
<text x="696 736" y="1233.4">40</text>
<text x="861 904" y="1233.4">60</text>
<text x="1031 1074" y="1233.4">80</text>
<text x="1179 1224 1269" y="1233.4">100</text>
<text x="1351 1396 1441" y="1233.4">120</text>
<text x="1519 1564 1609" y="1233.4">140</text>
<text x="1686 1731 1774" y="1233.4">160</text>
<text x="1854 1899 1942" y="1233.4">180</text>
</g>
<g filter="url(#f8)"><text font-size="80" x="112 157" y="1173.4">10</text><text font-size="55" x="209.7" y="1144">−3</text></g>
<g filter="url(#f9)"><text font-size="80" x="112 157" y="953.4">10</text><text font-size="55" x="209.7" y="924">−2</text></g>
<g filter="url(#f10)"><text font-size="80" x="112 157" y="733.4">10</text><text font-size="55" x="209.7" y="704">−1</text></g>
<g filter="url(#f11)"><text font-size="80" x="157 202" y="513.4">10</text><text font-size="55" x="254.7" y="484">0</text></g>
<g filter="url(#f12)"><text font-size="80" x="157 202" y="293.4">10</text><text font-size="55" x="254.7" y="264">1</text></g>
<g font-size="50" filter="url(#f13)"><text text-anchor="middle" transform="translate(1164.5 1308.6) scale(1 1.07)">Scattering Angle [deg]</text></g>
<g font-size="50" filter="url(#f14)"><text letter-spacing="0.15" transform="translate(75.6 788.8) rotate(-90) scale(1 1.07)">Phase Function</text></g>
<g shape-rendering="crispEdges">
<rect x="371" y="759" width="105" height="5" fill="#000000"/>
<rect x="371" y="834" width="105" height="5" fill="#008000"/>
<rect x="371" y="909" width="105" height="5" fill="#0000ff"/>
<rect x="371" y="984" width="105" height="5" fill="#808000"/>
<rect x="371" y="1059" width="105" height="5" fill="#ff0000"/>
</g>
<g font-size="50" letter-spacing="-0.4" filter="url(#f15)">
<text transform="translate(511 783.6) scale(1 1.07)">OPAC- 0.95</text>
<text transform="translate(511 858.6) scale(1 1.07)">GOCART- 0.95</text>
<text dx="5 -5" transform="translate(511 933.6) scale(1 1.07)">OMI</text>
<text transform="translate(511 1008.6) scale(1 1.07)">MODIS</text>
<text dx="0 -4.5" transform="translate(511 1083.6) scale(1 1.07)">AERONET</text>
</g>
</g>
<g id="panel2">
<rect fill="none" stroke="#808080" stroke-width="5" x="1758.5" y="1914.5" width="170" height="110"/>
<g filter="url(#f16)"><use href="#plot2"/></g>
<g filter="url(#f17)"><use href="#plot2"/></g>
<g filter="url(#f18)"><use href="#plot2"/></g>
<g filter="url(#f19)"><use href="#plot2"/></g>
<g filter="url(#f20)"><use href="#plot2"/></g>
<g filter="url(#f21)"><use href="#plot2"/></g>
<g fill="#000" shape-rendering="crispEdges">
<path fill-opacity="0.6" d="M321 2407H326v5H321zM321 2367H326v5H321zM321 2337H326v5H321zM321 2317H326v5H321zM321 2297H326v5H321zM321 2282H326v5H321zM321 2272H326v5H321zM321 2257H326v5H321zM321 2177H326v5H321zM321 2137H326v5H321zM321 2112H326v5H321zM321 2087H326v5H321zM321 2072H326v5H321zM321 2057H326v5H321zM321 2042H326v5H321zM321 2032H326v5H321zM321 1952H326v5H321zM321 1912H326v5H321zM321 1882H326v5H321zM321 1862H326v5H321zM321 1842H326v5H321zM321 1827H326v5H321zM321 1812H326v5H321zM321 1802H326v5H321zM321 1722H326v5H321zM321 1682H326v5H321zM321 1652H326v5H321zM321 1632H326v5H321zM321 1612H326v5H321zM321 1597H326v5H321zM321 1587H326v5H321zM321 1572H326v5H321zM321 1492H326v5H321zM321 1452H326v5H321zM321 1427H326v5H321zM321 1402H326v5H321z"/>
<path fill-opacity="0.3" d="M316 2407h5v5h-5zM326 2407h5v5h-5zM316 2367h5v5h-5zM326 2367h5v5h-5zM316 2337h5v5h-5zM326 2337h5v5h-5zM316 2317h5v5h-5zM326 2317h5v5h-5zM316 2297h5v5h-5zM326 2297h5v5h-5zM316 2282h5v5h-5zM326 2282h5v5h-5zM316 2272h5v5h-5zM326 2272h5v5h-5zM316 2257h5v5h-5zM326 2257h5v5h-5zM316 2177h5v5h-5zM326 2177h5v5h-5zM316 2137h5v5h-5zM326 2137h5v5h-5zM316 2112h5v5h-5zM326 2112h5v5h-5zM316 2087h5v5h-5zM326 2087h5v5h-5zM316 2072h5v5h-5zM326 2072h5v5h-5zM316 2057h5v5h-5zM326 2057h5v5h-5zM316 2042h5v5h-5zM326 2042h5v5h-5zM316 2032h5v5h-5zM326 2032h5v5h-5zM316 1952h5v5h-5zM326 1952h5v5h-5zM316 1912h5v5h-5zM326 1912h5v5h-5zM316 1882h5v5h-5zM326 1882h5v5h-5zM316 1862h5v5h-5zM326 1862h5v5h-5zM316 1842h5v5h-5zM326 1842h5v5h-5zM316 1827h5v5h-5zM326 1827h5v5h-5zM316 1812h5v5h-5zM326 1812h5v5h-5zM316 1802h5v5h-5zM326 1802h5v5h-5zM316 1722h5v5h-5zM326 1722h5v5h-5zM316 1682h5v5h-5zM326 1682h5v5h-5zM316 1652h5v5h-5zM326 1652h5v5h-5zM316 1632h5v5h-5zM326 1632h5v5h-5zM316 1612h5v5h-5zM326 1612h5v5h-5zM316 1597h5v5h-5zM326 1597h5v5h-5zM316 1587h5v5h-5zM326 1587h5v5h-5zM316 1572h5v5h-5zM326 1572h5v5h-5zM316 1492h5v5h-5zM326 1492h5v5h-5zM316 1452h5v5h-5zM326 1452h5v5h-5zM316 1427h5v5h-5zM326 1427h5v5h-5zM316 1402h5v5h-5zM326 1402h5v5h-5z"/>
<path fill-opacity="0.8" d="M401 2482V2497h5V2482zM571 2482V2497h5V2482zM741 2482V2497h5V2482zM911 2482V2497h5V2482zM1081 2482V2497h5V2482zM1246 2482V2497h5V2482zM1416 2482V2497h5V2482zM1586 2482V2497h5V2482zM1756 2482V2497h5V2482zM1926 2482V2497h5V2482zM316 2477H326v5H316zM316 2247H326v5H316zM316 2022H326v5H316zM316 1792H326v5H316zM316 1562H326v5H316zM1541 1412H1551v5H1541zM1541 1552H1551v5H1541zM1541 1687H1551v5H1541zM1551 1692V1707h5V1692zM1976 1692V1707h5V1692z"/>
<path fill-opacity="0.4" d="M401 2497h5v5h-5zM401 2477h5v5h-5zM571 2497h5v5h-5zM571 2477h5v5h-5zM741 2497h5v5h-5zM741 2477h5v5h-5zM911 2497h5v5h-5zM911 2477h5v5h-5zM1081 2497h5v5h-5zM1081 2477h5v5h-5zM1246 2497h5v5h-5zM1246 2477h5v5h-5zM1416 2497h5v5h-5zM1416 2477h5v5h-5zM1586 2497h5v5h-5zM1586 2477h5v5h-5zM1756 2497h5v5h-5zM1756 2477h5v5h-5zM1926 2497h5v5h-5zM1926 2477h5v5h-5zM311 2477h5v5h-5zM326 2477h5v5h-5zM311 2247h5v5h-5zM326 2247h5v5h-5zM311 2022h5v5h-5zM326 2022h5v5h-5zM311 1792h5v5h-5zM326 1792h5v5h-5zM311 1562h5v5h-5zM326 1562h5v5h-5zM1536 1412h5v5h-5zM1551 1412h5v5h-5zM1536 1552h5v5h-5zM1551 1552h5v5h-5zM1536 1687h5v5h-5zM1551 1687h5v5h-5zM1551 1707h5v5h-5zM1551 1687h5v5h-5zM1976 1707h5v5h-5zM1976 1687h5v5h-5z"/>
<path fill-opacity="0.8" d="M326 1387H2006v5H326zM326 2477H2006v5H326zM1551 1412H1981v5H1551zM1551 1687H1981v5H1551z"/>
<path fill-opacity="0.8" d="M326 1387V2482h5V1387zM2001 1387V2482h5V1387zM1551 1412V1692h5V1412zM1976 1412V1692h5V1412z"/>
</g>
<g font-size="80" filter="url(#f22)">
<text x="381" y="2576.4">0</text>
<text x="526 566" y="2576.4">20</text>
<text x="696 736" y="2576.4">40</text>
<text x="861 904" y="2576.4">60</text>
<text x="1031 1074" y="2576.4">80</text>
<text x="1179 1224 1269" y="2576.4">100</text>
<text x="1351 1396 1441" y="2576.4">120</text>
<text x="1519 1564 1609" y="2576.4">140</text>
<text x="1686 1731 1774" y="2576.4">160</text>
<text x="1854 1899 1942" y="2576.4">180</text>
</g>
<g filter="url(#f23)"><text font-size="80" x="112 157" y="2516.4">10</text><text font-size="55" x="209.7" y="2487">−3</text></g>
<g filter="url(#f24)"><text font-size="80" x="112 157" y="2286.4">10</text><text font-size="55" x="209.7" y="2257">−2</text></g>
<g filter="url(#f25)"><text font-size="80" x="112 157" y="2061.4">10</text><text font-size="55" x="209.7" y="2032">−1</text></g>
<g filter="url(#f26)"><text font-size="80" x="157 202" y="1831.4">10</text><text font-size="55" x="254.7" y="1802">0</text></g>
<g filter="url(#f27)"><text font-size="80" x="157 202" y="1601.4">10</text><text font-size="55" x="254.7" y="1572">1</text></g>
<g font-size="50" filter="url(#f28)"><text text-anchor="middle" transform="translate(1164.5 2651.6) scale(1 1.07)">Scattering Angle [deg]</text></g>
<g font-size="50" filter="url(#f29)"><text letter-spacing="0.15" transform="translate(75.6 2131.8) rotate(-90) scale(1 1.07)">Phase Function</text></g>
<g shape-rendering="crispEdges">
<rect x="371" y="2177" width="105" height="5" fill="#000000"/>
<rect x="371" y="2252" width="105" height="5" fill="#008000"/>
<rect x="371" y="2327" width="105" height="5" fill="#0000ff"/>
<rect x="371" y="2402" width="105" height="5" fill="#ff0000"/>
</g>
<g font-size="50" letter-spacing="-0.4" filter="url(#f30)">
<text transform="translate(511 2201.6) scale(1 1.07)">OPAC- 0.80</text>
<text transform="translate(511 2276.6) scale(1 1.07)">OPAC- 0.90</text>
<text transform="translate(511 2351.6) scale(1 1.07)">OPAC- 0.95</text>
<text dx="0 -4.5" transform="translate(511 2426.6) scale(1 1.07)">AERONET</text>
</g>
</g>
<g id="panel3">
<rect fill="none" stroke="#808080" stroke-width="5" x="1758.5" y="3258.5" width="170" height="110"/>
<g filter="url(#f31)"><use href="#plot3"/></g>
<g filter="url(#f32)"><use href="#plot3"/></g>
<g filter="url(#f33)"><use href="#plot3"/></g>
<g filter="url(#f34)"><use href="#plot3"/></g>
<g filter="url(#f35)"><use href="#plot3"/></g>
<g filter="url(#f36)"><use href="#plot3"/></g>
<g fill="#000" shape-rendering="crispEdges">
<path fill-opacity="0.6" d="M321 3751H326v5H321zM321 3711H326v5H321zM321 3681H326v5H321zM321 3661H326v5H321zM321 3641H326v5H321zM321 3626H326v5H321zM321 3616H326v5H321zM321 3601H326v5H321zM321 3521H326v5H321zM321 3481H326v5H321zM321 3456H326v5H321zM321 3431H326v5H321zM321 3416H326v5H321zM321 3401H326v5H321zM321 3386H326v5H321zM321 3376H326v5H321zM321 3296H326v5H321zM321 3256H326v5H321zM321 3226H326v5H321zM321 3206H326v5H321zM321 3186H326v5H321zM321 3171H326v5H321zM321 3156H326v5H321zM321 3146H326v5H321zM321 3066H326v5H321zM321 3026H326v5H321zM321 2996H326v5H321zM321 2976H326v5H321zM321 2956H326v5H321zM321 2941H326v5H321zM321 2931H326v5H321zM321 2916H326v5H321zM321 2836H326v5H321zM321 2796H326v5H321zM321 2771H326v5H321zM321 2746H326v5H321z"/>
<path fill-opacity="0.3" d="M316 3751h5v5h-5zM326 3751h5v5h-5zM316 3711h5v5h-5zM326 3711h5v5h-5zM316 3681h5v5h-5zM326 3681h5v5h-5zM316 3661h5v5h-5zM326 3661h5v5h-5zM316 3641h5v5h-5zM326 3641h5v5h-5zM316 3626h5v5h-5zM326 3626h5v5h-5zM316 3616h5v5h-5zM326 3616h5v5h-5zM316 3601h5v5h-5zM326 3601h5v5h-5zM316 3521h5v5h-5zM326 3521h5v5h-5zM316 3481h5v5h-5zM326 3481h5v5h-5zM316 3456h5v5h-5zM326 3456h5v5h-5zM316 3431h5v5h-5zM326 3431h5v5h-5zM316 3416h5v5h-5zM326 3416h5v5h-5zM316 3401h5v5h-5zM326 3401h5v5h-5zM316 3386h5v5h-5zM326 3386h5v5h-5zM316 3376h5v5h-5zM326 3376h5v5h-5zM316 3296h5v5h-5zM326 3296h5v5h-5zM316 3256h5v5h-5zM326 3256h5v5h-5zM316 3226h5v5h-5zM326 3226h5v5h-5zM316 3206h5v5h-5zM326 3206h5v5h-5zM316 3186h5v5h-5zM326 3186h5v5h-5zM316 3171h5v5h-5zM326 3171h5v5h-5zM316 3156h5v5h-5zM326 3156h5v5h-5zM316 3146h5v5h-5zM326 3146h5v5h-5zM316 3066h5v5h-5zM326 3066h5v5h-5zM316 3026h5v5h-5zM326 3026h5v5h-5zM316 2996h5v5h-5zM326 2996h5v5h-5zM316 2976h5v5h-5zM326 2976h5v5h-5zM316 2956h5v5h-5zM326 2956h5v5h-5zM316 2941h5v5h-5zM326 2941h5v5h-5zM316 2931h5v5h-5zM326 2931h5v5h-5zM316 2916h5v5h-5zM326 2916h5v5h-5zM316 2836h5v5h-5zM326 2836h5v5h-5zM316 2796h5v5h-5zM326 2796h5v5h-5zM316 2771h5v5h-5zM326 2771h5v5h-5zM316 2746h5v5h-5zM326 2746h5v5h-5z"/>
<path fill-opacity="0.8" d="M401 3826V3841h5V3826zM571 3826V3841h5V3826zM741 3826V3841h5V3826zM911 3826V3841h5V3826zM1081 3826V3841h5V3826zM1246 3826V3841h5V3826zM1416 3826V3841h5V3826zM1586 3826V3841h5V3826zM1756 3826V3841h5V3826zM1926 3826V3841h5V3826zM316 3821H326v5H316zM316 3591H326v5H316zM316 3366H326v5H316zM316 3136H326v5H316zM316 2906H326v5H316zM1541 2756H1551v5H1541zM1541 2896H1551v5H1541zM1541 3031H1551v5H1541zM1551 3036V3051h5V3036zM1976 3036V3051h5V3036z"/>
<path fill-opacity="0.4" d="M401 3841h5v5h-5zM401 3821h5v5h-5zM571 3841h5v5h-5zM571 3821h5v5h-5zM741 3841h5v5h-5zM741 3821h5v5h-5zM911 3841h5v5h-5zM911 3821h5v5h-5zM1081 3841h5v5h-5zM1081 3821h5v5h-5zM1246 3841h5v5h-5zM1246 3821h5v5h-5zM1416 3841h5v5h-5zM1416 3821h5v5h-5zM1586 3841h5v5h-5zM1586 3821h5v5h-5zM1756 3841h5v5h-5zM1756 3821h5v5h-5zM1926 3841h5v5h-5zM1926 3821h5v5h-5zM311 3821h5v5h-5zM326 3821h5v5h-5zM311 3591h5v5h-5zM326 3591h5v5h-5zM311 3366h5v5h-5zM326 3366h5v5h-5zM311 3136h5v5h-5zM326 3136h5v5h-5zM311 2906h5v5h-5zM326 2906h5v5h-5zM1536 2756h5v5h-5zM1551 2756h5v5h-5zM1536 2896h5v5h-5zM1551 2896h5v5h-5zM1536 3031h5v5h-5zM1551 3031h5v5h-5zM1551 3051h5v5h-5zM1551 3031h5v5h-5zM1976 3051h5v5h-5zM1976 3031h5v5h-5z"/>
<path fill-opacity="0.8" d="M326 2731H2006v5H326zM326 3821H2006v5H326zM1551 2756H1981v5H1551zM1551 3031H1981v5H1551z"/>
<path fill-opacity="0.8" d="M326 2731V3826h5V2731zM2001 2731V3826h5V2731zM1551 2756V3036h5V2756zM1976 2756V3036h5V2756z"/>
</g>
<g font-size="80" filter="url(#f37)">
<text x="381" y="3920.4">0</text>
<text x="526 566" y="3920.4">20</text>
<text x="696 736" y="3920.4">40</text>
<text x="861 904" y="3920.4">60</text>
<text x="1031 1074" y="3920.4">80</text>
<text x="1179 1224 1269" y="3920.4">100</text>
<text x="1351 1396 1441" y="3920.4">120</text>
<text x="1519 1564 1609" y="3920.4">140</text>
<text x="1686 1731 1774" y="3920.4">160</text>
<text x="1854 1899 1942" y="3920.4">180</text>
</g>
<g filter="url(#f38)"><text font-size="80" x="112 157" y="3860.4">10</text><text font-size="55" x="209.7" y="3831">−3</text></g>
<g filter="url(#f39)"><text font-size="80" x="112 157" y="3630.4">10</text><text font-size="55" x="209.7" y="3601">−2</text></g>
<g filter="url(#f40)"><text font-size="80" x="112 157" y="3405.4">10</text><text font-size="55" x="209.7" y="3376">−1</text></g>
<g filter="url(#f41)"><text font-size="80" x="157 202" y="3175.4">10</text><text font-size="55" x="254.7" y="3146">0</text></g>
<g filter="url(#f42)"><text font-size="80" x="157 202" y="2945.4">10</text><text font-size="55" x="254.7" y="2916">1</text></g>
<g font-size="50" filter="url(#f43)"><text text-anchor="middle" transform="translate(1164.5 3995.6) scale(1 1.07)">Scattering Angle [deg]</text></g>
<g font-size="50" filter="url(#f44)"><text letter-spacing="0.15" transform="translate(75.6 3475.8) rotate(-90) scale(1 1.07)">Phase Function</text></g>
<g shape-rendering="crispEdges">
<rect x="371" y="3521" width="105" height="5" fill="#000000"/>
<rect x="371" y="3596" width="105" height="5" fill="#008000"/>
<rect x="371" y="3671" width="105" height="5" fill="#0000ff"/>
<rect x="371" y="3746" width="105" height="5" fill="#ff0000"/>
</g>
<g font-size="50" letter-spacing="-0.4" filter="url(#f45)">
<text transform="translate(511 3545.6) scale(1 1.07)">GOCART- 0.80</text>
<text transform="translate(511 3620.6) scale(1 1.07)">GOCART- 0.90</text>
<text transform="translate(511 3695.6) scale(1 1.07)">GOCART- 0.95</text>
<text dx="0 -4.5" transform="translate(511 3770.6) scale(1 1.07)">AERONET</text>
</g>
</g>
</svg>
</body></html>
